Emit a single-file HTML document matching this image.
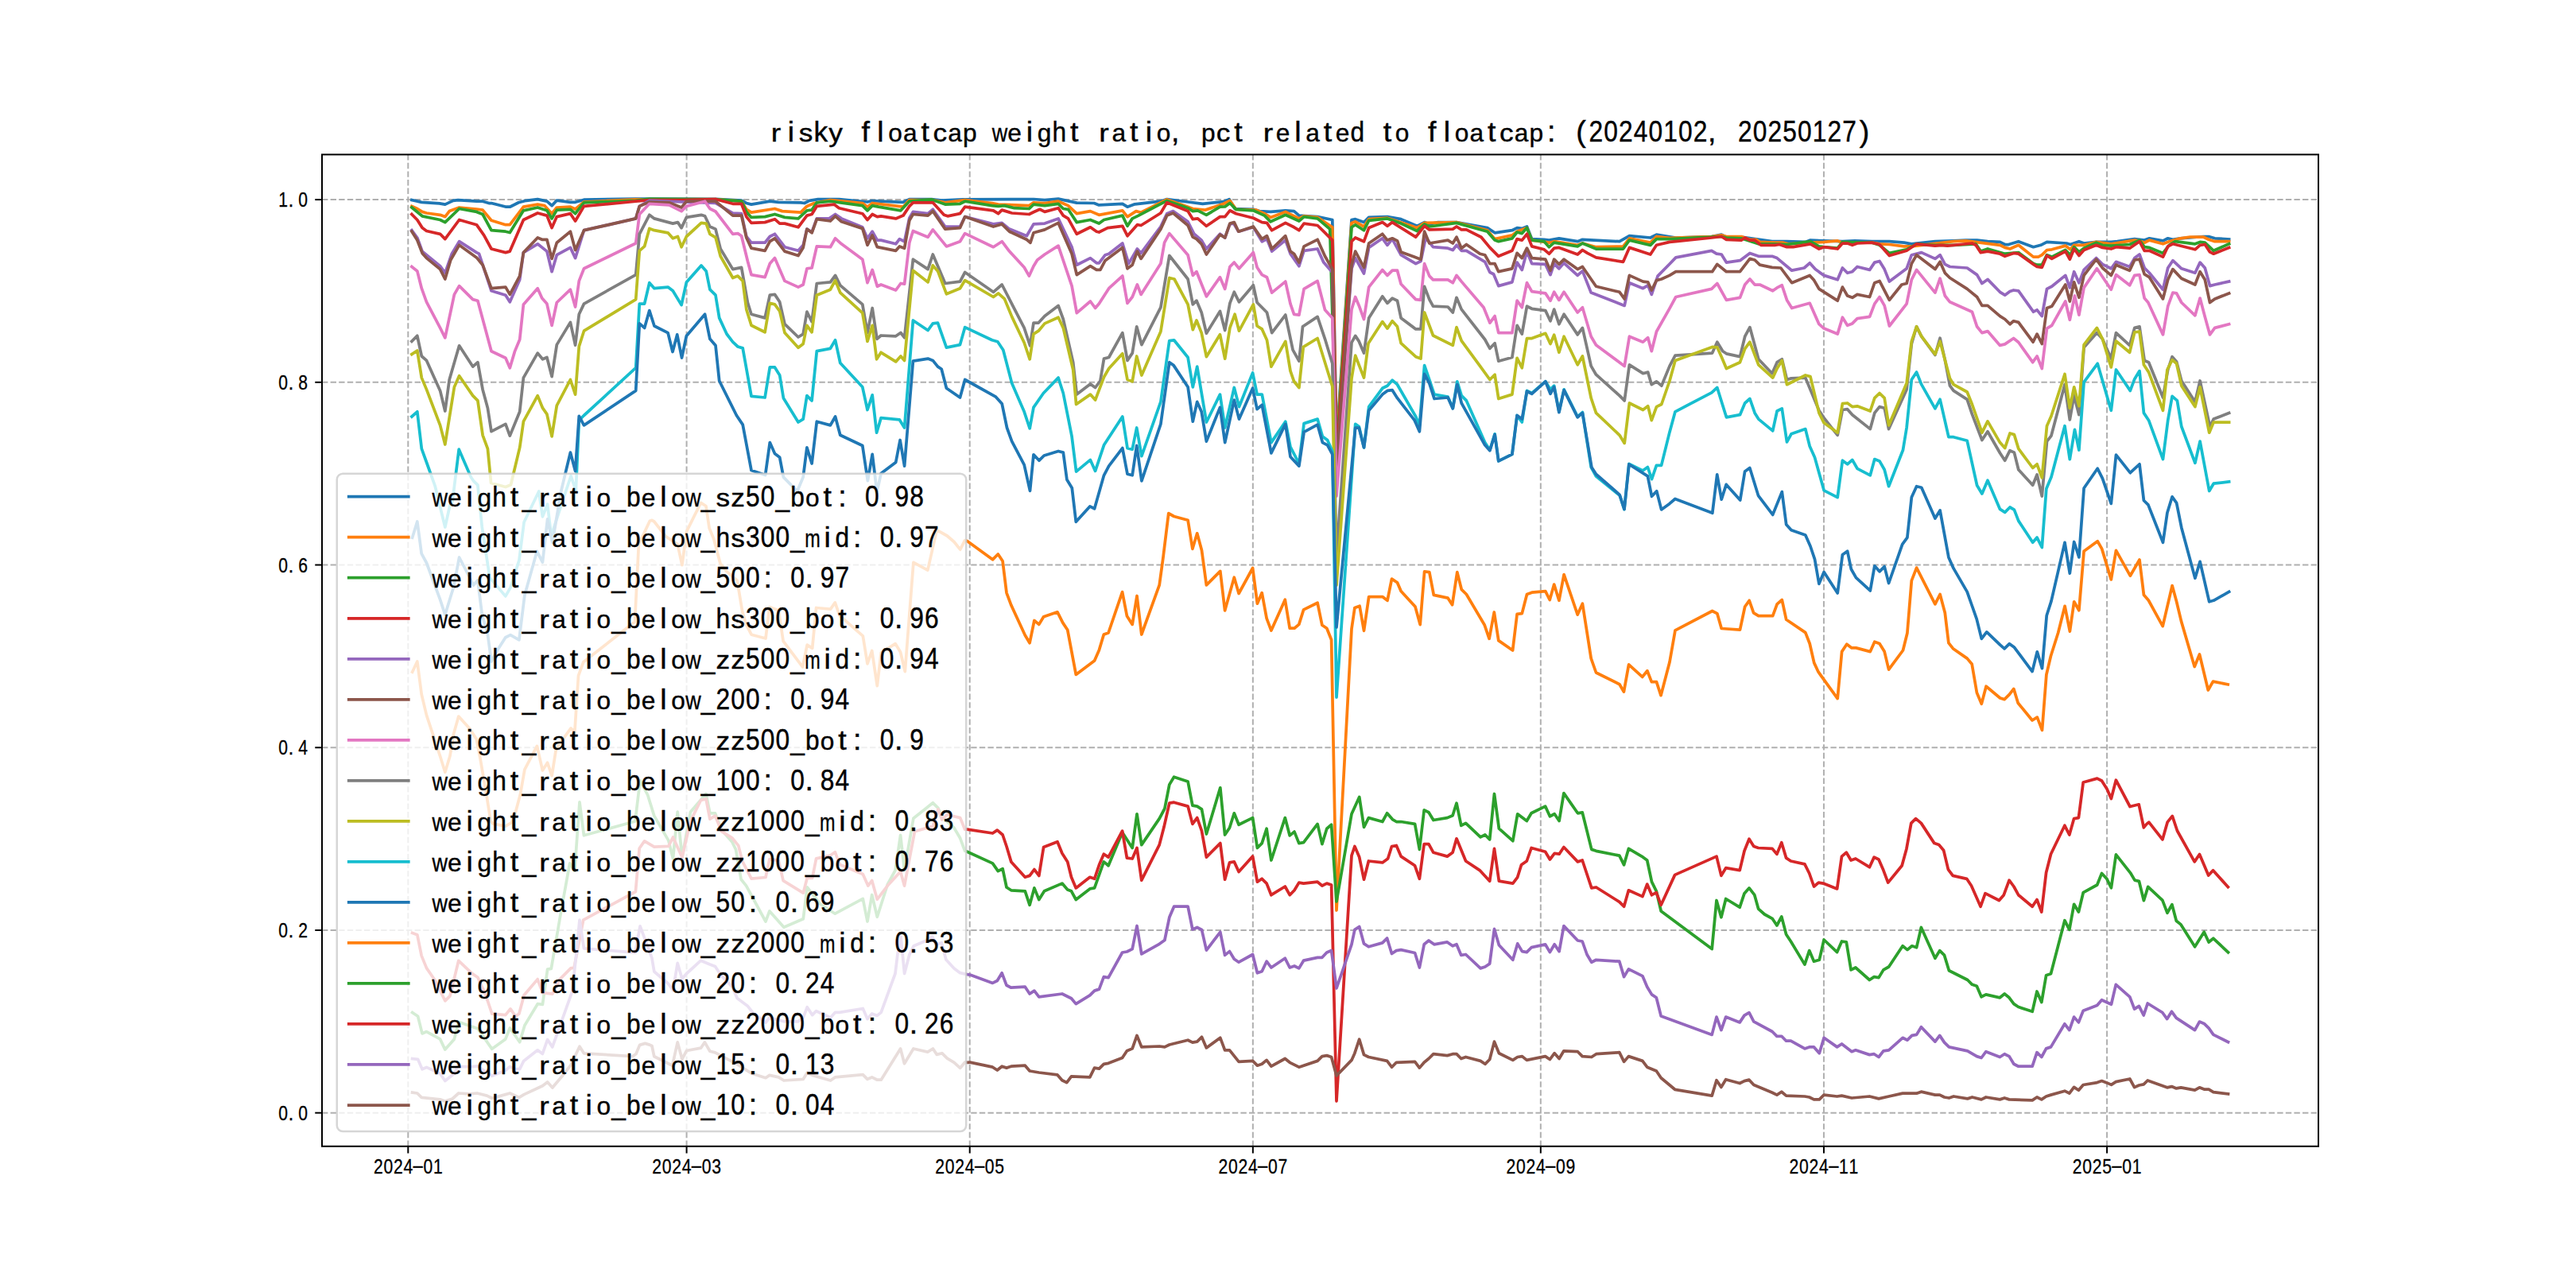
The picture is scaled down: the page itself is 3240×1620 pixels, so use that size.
<!DOCTYPE html><html><head><meta charset="utf-8"><style>html,body{margin:0;padding:0;background:#fff;overflow:hidden}svg{display:block}</style></head><body><svg width="3240" height="1620" viewBox="0 0 3240 1620" font-family="Liberation Sans, sans-serif"><defs><clipPath id="ax"><rect x="405.0" y="194.4" width="2511.0" height="1247.3999999999999"/></clipPath></defs><rect x="0" y="0" width="3240" height="1620" fill="#fff"/><g stroke="#b0b0b0" stroke-width="2" stroke-dasharray="7.4,3.2" fill="none"><line x1="513.30" y1="1441.8" x2="513.30" y2="194.4"/><line x1="863.59" y1="1441.8" x2="863.59" y2="194.4"/><line x1="1219.72" y1="1441.8" x2="1219.72" y2="194.4"/><line x1="1575.85" y1="1441.8" x2="1575.85" y2="194.4"/><line x1="1937.82" y1="1441.8" x2="1937.82" y2="194.4"/><line x1="2293.95" y1="1441.8" x2="2293.95" y2="194.4"/><line x1="2650.08" y1="1441.8" x2="2650.08" y2="194.4"/><line x1="405.0" y1="1399.70" x2="2916.0" y2="1399.70"/><line x1="405.0" y1="1169.98" x2="2916.0" y2="1169.98"/><line x1="405.0" y1="940.26" x2="2916.0" y2="940.26"/><line x1="405.0" y1="710.54" x2="2916.0" y2="710.54"/><line x1="405.0" y1="480.82" x2="2916.0" y2="480.82"/><line x1="405.0" y1="251.10" x2="2916.0" y2="251.10"/></g><g fill="none" stroke-width="3.75" stroke-linejoin="round" stroke-linecap="square" clip-path="url(#ax)"><polyline points="517.9,251.6 530.3,254.3 552.8,255.8 559.8,257.1 569.9,252.4 576.1,251.6 599.4,253.2 607.1,253.2 614.9,255.5 618.0,255.5 636.6,260.2 641.3,260.2 652.2,254.8 659.9,252.7 676.2,250.6 687.9,253.2 694.1,258.6 700.3,252.1 717.4,254.3 723.6,254.3 734.5,251.2 799.7,250.1 900.0,250.4 932.6,252.1 938.8,255.5 945.0,257.1 968.3,253.2 979.2,254.3 1007.1,254.8 1011.8,255.5 1018.0,252.4 1028.9,250.6 1055.3,250.6 1091.0,254.0 1095.7,252.7 1136.0,254.3 1143.8,250.6 1171.7,250.6 1184.2,252.1 1210.6,250.9 1300.0,250.5 1314.0,251.6 1331.1,250.1 1354.3,255.2 1376.1,255.5 1382.3,257.9 1411.8,256.3 1418.0,260.2 1427.3,256.8 1459.9,253.2 1467.7,250.6 1494.1,254.0 1512.7,256.3 1539.1,253.7 1546.1,250.6 1553.1,262.5 1576.4,263.3 1584.2,265.6 1598.1,266.4 1616.8,264.8 1627.6,265.6 1633.9,271.1 1657.1,272.6 1675.8,276.5 1681.0,555.0 1700.0,276.5 1704.7,275.7 1715.5,279.6 1721.7,273.4 1745.0,272.6 1762.1,275.7 1782.3,284.3 1791.6,279.6 1797.8,281.9 1808.7,279.6 1832.0,279.6 1870.8,286.6 1880.1,292.8 1901.9,289.7 1908.1,286.6 1914.3,287.4 1920.5,285.0 1926.7,300.6 1942.2,301.3 1948.4,302.1 1960.9,299.8 1984.2,303.7 1990.4,301.3 2037.0,303.7 2049.4,296.7 2075.8,299.0 2083.5,295.1 2100.0,297.8 2107.8,299.0 2152.8,297.5 2165.2,295.1 2171.4,298.2 2190.1,298.2 2228.9,303.7 2247.5,303.7 2270.8,304.4 2277.0,302.1 2294.1,302.9 2317.4,303.7 2332.9,302.9 2354.7,303.7 2376.4,303.7 2395.0,305.2 2404.3,306.8 2410.6,306.0 2433.9,303.7 2457.1,302.9 2472.7,302.1 2486.6,302.1 2500.0,303.7 2515.5,304.4 2521.7,307.5 2526.4,307.5 2538.8,303.7 2557.5,310.7 2566.8,308.3 2574.5,304.4 2599.4,306.0 2604.0,307.5 2614.9,303.7 2621.1,306.0 2636.6,304.4 2655.3,304.4 2663.0,303.7 2684.8,300.6 2697.2,302.1 2703.4,299.8 2720.5,302.9 2726.7,299.8 2732.9,301.3 2742.2,299.8 2771.7,297.5 2778.0,297.5 2785.7,299.8 2803.6,300.9" stroke="#1f77b4"/><polyline points="517.9,259.4 524.8,262.5 531.1,266.4 536.5,268.0 553.6,270.3 559.8,272.6 565.2,265.6 577.6,261.0 599.4,263.0 607.1,264.1 618.0,277.3 635.9,282.7 641.3,282.7 658.4,260.2 676.2,257.1 684.8,258.6 694.1,268.7 700.3,261.0 717.4,260.2 723.6,263.0 734.5,254.0 799.7,250.9 900.0,250.6 932.6,253.2 938.8,263.3 945.0,267.2 974.5,262.5 983.9,265.6 1007.1,267.2 1014.9,259.4 1024.2,255.5 1044.4,251.6 1084.8,255.5 1091.0,260.2 1097.2,255.5 1136.0,260.2 1143.8,251.6 1173.3,251.6 1188.8,254.8 1213.7,251.6 1247.8,255.5 1255.6,257.1 1294.4,258.6 1300.0,254.8 1314.0,255.5 1331.1,253.2 1343.5,258.6 1354.3,268.7 1371.4,265.6 1382.3,270.3 1411.8,264.8 1418.0,272.6 1428.9,265.6 1435.1,267.2 1467.7,250.9 1494.1,260.2 1500.3,262.5 1515.8,264.1 1539.1,256.3 1546.9,252.4 1554.7,263.3 1579.5,264.1 1590.4,268.7 1598.1,273.4 1616.8,266.4 1633.9,274.9 1640.1,271.8 1657.1,273.4 1675.8,285.8 1681.0,562.0 1700.0,280.4 1704.7,278.8 1715.5,285.0 1721.7,275.7 1745.0,274.2 1782.3,286.6 1791.6,280.4 1832.0,279.6 1870.8,289.7 1880.1,300.6 1901.9,295.9 1908.1,291.2 1920.5,286.6 1926.7,302.1 1948.4,305.2 1954.7,303.7 1984.2,308.3 1990.4,306.0 2007.5,310.7 2041.6,309.9 2049.4,299.8 2075.8,305.2 2083.5,297.5 2100.0,299.4 2152.8,297.5 2165.2,295.9 2171.4,297.5 2190.1,297.5 2200.9,301.3 2208.7,301.3 2213.4,304.4 2232.0,305.2 2242.9,305.2 2249.1,306.8 2277.0,305.2 2294.1,304.4 2311.2,302.9 2317.4,305.2 2354.7,305.2 2364.0,306.8 2376.4,307.5 2395.0,309.9 2404.3,309.9 2457.1,303.7 2472.7,302.9 2500.0,306.4 2515.5,308.3 2521.7,311.4 2528.0,313.0 2538.8,308.3 2557.5,323.1 2563.7,323.1 2568.3,320.7 2574.5,314.5 2580.7,313.8 2597.8,309.1 2604.0,313.8 2608.7,308.3 2621.1,308.3 2636.6,304.4 2655.3,306.8 2684.8,302.1 2691.0,302.9 2697.2,305.2 2703.4,302.1 2720.5,306.8 2728.3,303.7 2742.2,299.8 2754.7,298.2 2771.7,298.2 2778.0,301.3 2785.7,303.7 2803.6,303.7" stroke="#ff7f0e"/><polyline points="517.9,261.0 531.1,271.8 553.6,276.5 559.8,279.6 577.6,262.5 599.4,266.4 607.1,269.5 618.0,289.7 635.9,291.2 641.3,292.5 658.4,264.8 676.2,261.0 687.9,264.8 694.1,274.9 700.3,264.1 717.4,263.3 723.6,268.7 734.5,254.8 799.7,252.4 816.8,250.1 900.0,250.9 932.6,253.2 938.8,266.4 945.0,273.4 962.1,272.6 974.5,269.5 987.0,273.4 1004.0,274.9 1014.9,264.8 1021.1,264.1 1027.3,254.8 1044.4,253.2 1084.8,258.6 1091.0,264.8 1097.2,258.6 1105.0,260.2 1132.9,264.8 1143.8,253.2 1171.7,250.9 1188.8,257.1 1207.5,256.3 1213.7,253.2 1247.8,258.6 1255.6,259.4 1263.4,258.6 1275.8,261.7 1294.4,262.5 1300.0,257.1 1314.0,258.6 1331.1,256.3 1337.3,262.5 1343.5,263.3 1354.3,279.6 1371.4,276.5 1382.3,281.1 1388.5,276.5 1411.8,271.1 1418.0,284.3 1424.2,274.9 1432.0,271.1 1467.7,252.4 1494.1,261.7 1500.3,265.6 1506.5,264.8 1517.4,270.3 1534.5,260.2 1540.7,259.9 1546.9,255.5 1554.7,263.3 1576.4,264.8 1590.4,271.1 1598.1,278.8 1616.8,270.3 1633.9,278.0 1640.1,272.6 1657.1,274.9 1672.7,288.1 1681.0,570.0 1700.0,285.8 1704.7,282.7 1715.5,289.7 1721.7,277.3 1745.0,274.9 1762.1,281.1 1782.3,290.5 1791.6,281.9 1797.8,285.0 1832.0,280.4 1870.8,291.2 1880.1,302.1 1884.8,303.7 1901.9,299.8 1908.1,292.0 1914.3,293.6 1920.5,286.6 1926.7,302.1 1942.2,303.7 1948.4,310.7 1954.7,305.2 1984.2,309.9 1990.4,306.0 2007.5,313.0 2041.6,313.0 2049.4,302.1 2075.8,308.3 2083.5,300.6 2100.0,300.6 2152.8,298.2 2165.2,297.5 2171.4,299.0 2190.1,299.8 2211.8,306.8 2232.0,306.8 2247.5,307.5 2277.0,303.7 2287.9,309.9 2294.1,310.7 2311.2,312.2 2317.4,304.4 2354.7,305.2 2364.0,308.3 2376.4,318.4 2398.1,313.8 2410.6,306.8 2433.9,308.3 2457.1,308.3 2485.1,306.8 2491.3,316.1 2500.0,313.0 2521.7,319.2 2538.8,317.6 2557.5,331.6 2562.1,333.2 2568.3,333.2 2574.5,320.7 2580.7,323.1 2597.8,314.5 2604.0,320.7 2608.7,310.7 2614.9,316.9 2621.1,312.2 2636.6,305.2 2644.4,308.3 2655.3,309.1 2678.6,307.5 2691.0,302.1 2697.2,310.7 2703.4,311.4 2720.5,318.4 2728.3,308.3 2736.0,303.7 2760.9,306.8 2767.1,304.4 2773.3,305.2 2784.2,315.3 2803.6,306.8" stroke="#2ca02c"/><polyline points="517.9,269.5 524.8,276.5 531.1,286.6 536.5,290.5 553.6,294.3 559.8,300.6 577.6,276.5 599.4,282.7 608.7,295.9 618.0,313.0 635.9,317.6 641.3,316.1 658.4,276.5 676.2,268.0 687.9,271.1 694.1,286.6 700.3,272.6 717.4,268.7 723.6,278.0 734.5,259.4 799.7,253.2 816.8,251.6 857.1,251.6 900.0,250.5 921.7,256.3 932.6,256.3 938.8,272.6 945.0,280.4 962.1,279.6 974.5,275.7 980.7,281.1 987.0,281.1 1004.0,285.8 1014.9,271.1 1021.1,269.5 1027.3,259.4 1049.1,257.1 1055.3,261.7 1084.8,268.7 1091.0,276.5 1097.2,269.5 1103.4,272.6 1108.1,271.8 1126.7,274.9 1136.0,271.1 1143.8,259.4 1148.4,254.8 1173.3,254.8 1187.3,270.3 1191.9,271.8 1207.5,268.7 1213.7,260.2 1249.4,264.8 1255.6,268.7 1260.2,264.1 1272.7,268.0 1294.4,269.5 1300.0,266.8 1307.8,263.3 1314.0,266.4 1331.1,261.7 1337.3,271.1 1343.5,274.9 1354.3,294.3 1371.4,285.8 1379.2,291.2 1382.3,292.0 1393.2,286.6 1411.8,284.3 1418.0,296.7 1430.4,282.7 1435.1,283.5 1459.9,268.0 1467.7,254.8 1494.1,265.6 1500.3,275.7 1506.5,274.9 1517.4,284.3 1534.5,272.6 1540.7,272.6 1546.9,264.8 1554.7,268.7 1576.4,274.2 1587.3,279.6 1593.5,280.4 1599.7,289.7 1616.8,280.4 1627.6,285.8 1633.9,289.7 1640.1,281.1 1657.1,283.5 1664.9,291.2 1675.8,302.1 1681.0,578.0 1700.0,303.7 1704.7,299.0 1715.5,303.7 1721.7,286.6 1738.8,279.6 1745.0,284.3 1751.2,279.6 1780.7,298.2 1791.6,284.3 1797.8,288.9 1827.3,288.1 1832.0,285.0 1838.2,288.9 1844.4,288.9 1863.0,298.2 1873.9,311.4 1884.8,322.3 1901.9,315.3 1908.1,300.6 1914.3,302.1 1920.5,294.3 1926.7,309.9 1942.2,313.8 1948.4,319.2 1954.7,312.2 1960.9,311.4 1984.2,320.0 1990.4,314.5 1996.6,318.4 2007.5,323.9 2041.6,329.3 2049.4,311.4 2075.8,320.0 2083.5,308.3 2100.0,304.4 2107.8,303.7 2152.8,299.0 2165.2,297.5 2171.4,301.3 2190.1,302.1 2194.7,299.0 2200.9,302.1 2207.1,302.1 2214.9,308.3 2232.0,308.3 2238.2,307.5 2247.5,310.7 2255.3,310.7 2277.0,306.8 2287.9,313.0 2294.1,310.7 2311.2,313.0 2317.4,306.0 2323.6,306.0 2329.8,308.3 2336.0,306.0 2354.7,305.2 2364.0,307.5 2376.4,321.5 2398.1,315.3 2410.6,306.8 2433.9,309.1 2441.6,308.3 2449.4,309.1 2480.4,306.0 2485.1,308.3 2491.3,317.6 2500.0,316.1 2515.5,319.2 2521.7,322.3 2532.6,318.4 2538.8,319.2 2557.5,332.4 2562.1,335.5 2568.3,336.3 2574.5,321.5 2580.7,325.4 2597.8,316.1 2603.3,326.2 2608.7,313.0 2614.9,321.5 2621.1,314.5 2636.6,308.3 2644.4,311.4 2655.3,313.0 2661.5,310.7 2678.6,312.2 2691.0,303.7 2697.2,315.3 2703.4,315.3 2720.5,323.1 2726.7,309.9 2732.9,306.8 2760.9,313.8 2767.1,308.3 2773.3,307.5 2779.5,316.9 2784.2,319.2 2803.6,311.4" stroke="#d62728"/><polyline points="517.9,289.7 524.8,299.0 531.1,316.1 536.5,320.7 553.6,334.7 559.8,343.3 568.3,319.2 577.6,303.7 599.4,317.6 602.5,319.2 618.0,365.8 635.9,371.2 641.3,379.8 653.7,351.8 658.4,317.6 676.2,306.8 687.9,316.1 694.1,341.7 700.3,320.7 717.4,311.4 723.6,324.6 734.5,289.7 799.7,274.9 804.3,259.4 816.8,252.4 900.0,255.5 921.7,268.0 932.6,268.7 938.8,297.5 945.0,305.2 962.1,305.2 968.3,297.5 974.5,294.3 987.0,310.7 1004.0,315.3 1010.2,308.3 1014.9,288.1 1021.1,292.0 1027.3,274.9 1042.9,274.9 1050.6,269.5 1058.4,274.9 1084.8,285.8 1091.0,299.8 1097.2,291.2 1103.4,302.1 1108.1,302.1 1126.7,306.8 1131.4,300.6 1137.6,303.7 1143.8,274.2 1148.4,266.4 1167.1,268.7 1173.3,263.3 1188.8,285.0 1207.5,285.0 1213.7,272.6 1249.4,281.9 1260.2,280.4 1269.6,288.1 1291.3,296.7 1300.0,281.9 1314.0,281.1 1331.1,274.9 1348.1,310.7 1354.3,333.2 1371.4,324.6 1379.2,330.8 1382.3,330.8 1390.1,320.7 1394.7,319.2 1411.8,306.0 1419.6,331.6 1430.4,313.0 1435.1,318.4 1459.9,285.0 1467.7,268.7 1475.5,265.6 1494.1,278.8 1501.9,294.3 1511.2,302.1 1517.4,313.0 1534.5,294.3 1540.7,299.0 1546.9,281.9 1551.6,281.1 1557.8,291.2 1576.4,285.8 1587.3,303.7 1593.5,300.6 1599.7,316.1 1616.8,302.1 1623.0,319.2 1633.9,334.7 1640.1,315.3 1657.1,313.0 1664.9,330.1 1675.8,342.5 1681.0,594.0 1700.0,337.8 1704.7,324.6 1715.5,344.0 1721.7,311.4 1738.8,299.8 1745.0,308.3 1751.2,300.6 1762.1,320.7 1780.7,331.6 1787.0,328.5 1793.2,299.0 1802.5,310.7 1821.1,312.2 1827.3,314.5 1832.0,308.3 1838.2,315.3 1844.4,315.3 1867.7,329.3 1873.9,342.5 1878.6,344.8 1884.8,359.6 1901.9,354.9 1908.1,330.1 1914.3,339.4 1920.5,316.1 1926.7,331.6 1943.8,332.4 1950.0,345.6 1954.7,331.6 1960.9,337.8 1967.1,330.8 1984.2,346.4 1990.4,340.9 2001.2,368.1 2043.2,384.4 2049.4,355.7 2066.5,362.7 2072.7,358.8 2077.3,370.4 2085.1,347.1 2100.0,332.0 2107.8,323.9 2152.8,315.3 2159.0,319.2 2165.2,320.0 2171.4,330.1 2188.5,327.7 2200.9,318.4 2211.8,322.3 2228.9,322.3 2235.1,324.6 2253.7,340.2 2269.3,337.0 2276.2,330.8 2283.2,338.6 2294.1,346.4 2311.2,351.8 2317.4,337.0 2323.6,343.3 2329.8,341.7 2336.0,335.5 2351.6,339.4 2357.8,330.1 2364.0,328.5 2370.2,338.6 2376.4,354.1 2398.1,337.8 2404.3,320.7 2416.8,317.6 2433.9,325.4 2440.1,320.7 2446.3,332.4 2452.5,335.5 2474.2,337.0 2486.6,345.6 2492.9,356.5 2500.0,351.4 2515.5,367.3 2521.7,371.2 2528.0,366.6 2532.6,365.0 2538.8,365.8 2557.5,392.2 2562.1,389.8 2568.3,397.6 2574.5,363.4 2580.7,360.3 2597.8,346.4 2603.3,361.9 2608.7,341.7 2614.9,355.7 2621.1,339.4 2636.6,324.6 2644.4,332.4 2655.3,337.8 2661.5,329.3 2678.6,335.5 2684.8,324.6 2691.0,320.0 2697.2,337.0 2703.4,343.3 2720.5,364.2 2726.7,337.0 2732.9,327.7 2743.8,337.8 2760.9,343.3 2767.1,330.1 2773.3,337.0 2779.5,359.6 2785.7,358.0 2803.6,354.1" stroke="#9467bd"/><polyline points="517.9,291.2 524.8,302.1 531.1,318.4 536.5,324.6 553.6,338.6 559.8,351.0 566.8,327.0 577.6,308.3 599.4,323.9 607.1,333.2 618.0,362.7 635.9,361.1 641.3,370.4 653.7,347.1 658.4,317.6 676.2,299.0 681.7,301.3 687.9,301.3 694.1,325.4 700.3,305.2 717.4,291.2 723.6,314.5 734.5,289.7 799.7,274.9 804.3,259.4 816.8,254.0 841.6,254.8 857.1,261.0 863.4,253.2 900.0,253.2 921.7,271.1 932.6,271.1 938.8,299.0 945.0,312.2 962.1,315.3 968.3,303.7 974.5,299.8 987.0,316.1 1004.0,321.5 1010.2,311.4 1014.9,288.1 1021.1,292.8 1027.3,275.7 1044.4,278.0 1050.6,271.8 1058.4,278.8 1084.8,287.4 1091.0,308.3 1097.2,295.9 1103.4,310.7 1126.7,315.3 1131.4,309.9 1137.6,312.2 1143.8,277.3 1148.4,269.5 1167.1,271.1 1173.3,265.6 1188.8,288.1 1207.5,286.6 1213.7,272.6 1249.4,285.0 1260.2,281.9 1269.6,291.2 1291.3,301.3 1296.0,305.2 1300.0,292.8 1314.0,288.9 1331.1,280.4 1348.1,319.2 1354.3,345.6 1371.4,334.7 1379.2,339.4 1383.9,339.4 1390.1,327.7 1411.8,311.4 1418.0,337.8 1424.2,333.2 1430.4,316.1 1435.1,325.4 1459.9,288.1 1467.7,271.1 1475.5,268.0 1494.1,283.5 1500.3,298.2 1505.0,300.6 1511.2,306.8 1517.4,320.0 1534.5,295.1 1540.7,299.0 1546.9,281.1 1552.3,279.6 1557.8,291.2 1576.4,285.0 1587.3,300.6 1593.5,296.7 1599.7,313.0 1616.8,296.7 1623.0,316.1 1627.6,319.2 1633.9,330.1 1640.1,309.9 1657.1,301.3 1666.5,322.3 1675.8,338.6 1681.0,586.0 1700.0,333.2 1704.7,316.1 1715.5,336.3 1721.7,306.0 1738.8,294.3 1745.0,302.1 1751.2,299.8 1757.5,302.9 1762.1,316.9 1787.0,326.2 1791.6,291.2 1797.8,306.0 1821.1,302.1 1827.3,306.0 1832.0,298.2 1838.2,312.2 1844.4,307.5 1861.5,319.2 1867.7,320.7 1873.9,331.6 1880.1,331.6 1884.8,341.7 1901.9,337.8 1908.1,318.4 1914.3,324.6 1920.5,312.2 1926.7,324.6 1943.8,326.2 1950.0,340.2 1954.7,326.2 1960.9,332.4 1967.1,326.2 1984.2,338.6 1990.4,335.5 2007.5,360.3 2037.0,367.3 2043.2,375.9 2049.4,346.4 2066.5,354.1 2072.7,354.9 2077.3,365.0 2083.5,352.6 2089.8,351.0 2100.0,346.4 2107.8,341.7 2153.6,341.7 2159.8,332.4 2171.4,341.7 2188.5,341.7 2200.9,325.4 2207.1,327.0 2213.4,333.2 2228.9,336.3 2239.8,337.0 2253.7,355.7 2276.2,346.4 2281.7,352.6 2287.9,363.4 2311.2,378.2 2317.4,361.1 2323.6,372.0 2329.8,374.3 2336.0,370.4 2351.6,373.5 2357.8,355.7 2364.0,353.4 2376.4,377.4 2391.9,358.0 2398.1,356.5 2404.3,331.6 2410.6,320.7 2433.9,338.6 2440.1,329.3 2446.3,343.3 2452.5,349.5 2474.2,363.4 2486.6,373.5 2492.9,384.4 2500.0,384.4 2515.5,397.6 2521.7,401.5 2528.0,407.7 2532.6,403.8 2538.8,405.4 2557.1,430.2 2562.1,420.1 2568.3,432.5 2574.5,387.5 2580.7,385.2 2597.8,358.0 2603.3,379.0 2608.7,354.9 2614.9,374.3 2621.1,346.4 2636.6,326.2 2644.4,337.0 2655.3,346.4 2661.5,333.2 2678.6,340.2 2684.8,327.0 2691.0,326.2 2697.2,344.8 2703.4,348.7 2720.5,375.9 2726.7,351.8 2732.9,338.6 2743.8,350.2 2760.9,358.0 2767.1,341.7 2773.3,351.8 2779.5,380.5 2785.7,375.9 2803.6,368.9" stroke="#8c564b"/><polyline points="517.9,335.5 524.8,340.9 530.3,362.7 536.5,379.8 553.6,412.4 559.8,424.8 571.4,370.4 577.6,359.6 594.7,376.6 600.9,378.2 618.0,441.8 635.9,450.3 641.3,462.7 647.5,441.9 653.7,427.0 658.4,382.9 676.2,362.7 681.7,375.1 687.9,382.1 694.1,409.3 700.3,380.5 717.4,364.2 723.6,386.0 728.3,353.4 734.5,337.8 799.7,306.0 804.3,269.5 816.8,256.3 841.6,257.9 857.1,265.6 863.4,259.4 886.6,253.2 892.9,262.5 900.0,266.0 921.7,294.3 928.0,293.6 932.6,296.7 940.4,328.5 945.0,345.6 962.1,348.7 968.3,331.6 974.5,324.6 987.0,353.4 1004.0,361.1 1010.2,358.0 1014.9,337.8 1021.1,337.0 1027.3,309.9 1044.4,310.7 1050.6,299.8 1058.4,306.8 1084.8,326.2 1091.0,355.7 1097.2,339.4 1103.4,360.3 1108.1,358.0 1126.7,365.0 1132.9,356.5 1137.6,357.2 1143.8,305.2 1148.4,290.5 1167.1,298.2 1173.3,288.9 1190.4,309.9 1207.5,303.7 1213.7,293.6 1249.4,310.7 1260.2,303.7 1269.6,316.1 1288.2,336.3 1294.4,347.1 1300.0,334.7 1304.7,327.0 1314.0,320.0 1331.1,309.1 1348.1,359.6 1354.3,393.7 1371.4,379.0 1377.6,387.5 1382.3,382.1 1394.7,362.7 1411.8,347.1 1418.0,381.3 1424.2,373.5 1430.4,358.0 1435.1,370.4 1459.9,331.6 1464.6,305.2 1470.8,293.6 1494.1,320.7 1500.3,346.4 1505.0,341.7 1517.4,372.8 1534.5,348.7 1540.7,363.4 1546.9,335.5 1552.3,330.1 1558.5,337.8 1576.4,317.6 1581.1,336.3 1587.3,345.6 1593.5,348.7 1599.7,368.1 1616.8,354.1 1623.0,382.1 1627.6,395.3 1633.9,396.1 1640.1,363.4 1657.1,353.4 1666.5,389.8 1675.8,399.9 1681.0,624.0 1700.0,389.1 1704.7,373.5 1709.3,384.4 1715.5,401.5 1721.7,361.1 1738.8,339.4 1745.0,346.4 1751.2,340.2 1757.5,340.2 1762.1,357.2 1780.7,376.6 1787.0,377.4 1791.6,331.6 1797.8,347.1 1802.5,351.8 1821.1,351.8 1827.3,355.7 1832.0,346.4 1838.2,354.1 1866.1,386.7 1873.9,406.1 1880.1,397.6 1884.8,418.6 1901.9,418.6 1908.1,378.2 1914.3,386.7 1920.5,355.7 1926.7,366.6 1943.8,368.9 1950.0,378.2 1954.7,367.3 1960.9,377.4 1967.1,367.3 1984.2,393.0 1990.4,386.7 2001.2,423.2 2007.5,434.0 2043.2,460.4 2049.4,423.2 2066.5,430.2 2072.7,424.7 2077.3,441.7 2083.5,417.0 2100.0,387.9 2107.8,373.5 2152.8,363.4 2159.8,356.5 2171.4,377.4 2188.5,374.3 2194.7,358.0 2200.9,351.0 2207.1,358.0 2213.4,358.0 2229.7,365.8 2235.1,361.9 2241.3,358.8 2247.5,377.4 2253.7,387.5 2276.2,381.3 2287.9,407.7 2294.1,413.1 2311.2,420.1 2317.4,399.2 2323.6,409.3 2329.8,406.9 2336.0,400.7 2351.6,398.4 2357.8,382.1 2364.0,373.5 2370.2,384.4 2376.4,410.0 2398.1,382.1 2404.3,351.8 2410.6,339.4 2433.9,368.1 2440.1,350.2 2446.3,372.0 2452.5,379.8 2480.4,392.2 2486.6,410.8 2492.9,418.6 2500.0,416.6 2515.5,434.4 2521.7,432.9 2532.6,425.5 2538.8,430.5 2556.7,455.7 2562.1,448.0 2568.3,463.5 2574.5,413.1 2580.7,409.3 2597.8,379.0 2603.3,402.3 2609.5,372.0 2614.9,396.1 2621.1,361.9 2637.4,337.8 2655.3,364.2 2661.5,345.6 2678.6,358.8 2684.8,346.4 2691.0,345.6 2697.2,375.1 2701.9,380.5 2720.5,420.9 2726.7,385.2 2732.9,368.1 2737.6,368.9 2743.8,380.5 2760.9,396.8 2767.1,375.1 2773.3,398.4 2779.5,420.9 2785.7,412.4 2803.6,407.7" stroke="#e377c2"/><polyline points="517.9,429.3 524.8,422.3 530.3,448.0 536.5,453.4 553.6,491.4 559.8,517.0 565.2,477.5 577.6,434.8 594.7,461.1 600.9,455.7 607.1,489.9 613.4,513.2 618.0,542.7 635.9,533.4 641.3,548.1 653.7,517.8 658.4,475.1 676.2,444.1 682.5,451.8 687.9,449.5 694.1,473.6 700.3,433.6 717.4,405.4 723.6,434.1 728.3,395.3 734.5,382.1 799.7,345.6 804.3,294.3 816.8,270.3 823.0,274.9 846.3,281.1 852.5,279.6 857.1,286.6 863.4,273.4 882.0,270.3 886.6,271.8 892.9,285.0 900.0,288.1 906.2,313.0 921.7,338.6 932.6,336.3 940.4,380.5 945.0,395.3 962.1,399.9 968.3,371.2 974.5,370.4 980.7,379.8 987.0,407.7 1004.0,424.0 1010.2,420.1 1014.9,392.2 1021.1,404.6 1027.3,356.5 1044.4,354.9 1050.6,346.4 1056.8,358.8 1084.8,382.9 1091.0,418.6 1097.2,387.5 1103.0,426.3 1108.1,422.0 1126.7,422.8 1132.9,418.5 1137.6,424.7 1148.4,326.2 1167.1,338.6 1173.3,320.0 1188.8,356.5 1207.5,354.1 1213.7,342.5 1249.4,367.3 1260.2,358.0 1288.2,412.4 1295.6,434.8 1300.0,406.1 1306.2,406.1 1314.0,397.6 1331.1,384.4 1337.3,401.5 1349.7,455.7 1354.3,496.1 1371.4,482.9 1377.6,487.5 1383.9,479.0 1388.5,451.1 1394.7,449.5 1411.8,418.6 1418.0,453.4 1424.2,444.1 1429.7,410.8 1435.9,433.6 1459.9,386.7 1470.8,321.5 1494.1,351.0 1500.3,382.9 1505.0,378.2 1511.2,393.0 1517.4,419.3 1534.5,391.4 1540.7,415.5 1546.9,381.3 1552.3,367.3 1558.5,379.8 1576.4,358.8 1581.1,380.5 1593.5,393.0 1599.7,418.6 1616.8,396.1 1626.1,440.2 1633.9,454.2 1638.5,410.8 1657.1,398.4 1666.5,426.3 1675.8,457.3 1681.0,699.0 1700.0,430.9 1704.7,422.4 1709.3,429.4 1715.5,444.1 1721.7,399.9 1738.8,372.8 1745.0,381.3 1751.2,375.1 1757.5,378.2 1762.1,399.9 1780.7,413.9 1787.0,413.9 1791.6,360.3 1797.8,376.6 1802.5,385.2 1821.1,386.0 1827.3,393.0 1832.0,374.3 1838.2,389.1 1867.7,427.0 1873.9,438.3 1880.1,431.7 1884.8,454.2 1901.9,449.5 1908.1,409.3 1914.3,420.1 1920.5,385.2 1926.7,388.3 1943.8,390.6 1950.0,403.8 1954.7,389.1 1960.9,407.7 1967.1,395.3 1984.2,420.9 1990.4,412.4 2001.2,460.4 2007.5,471.2 2037.0,497.6 2043.2,503.9 2049.4,458.8 2066.5,469.7 2072.7,468.1 2077.3,483.7 2083.5,479.8 2089.8,485.2 2100.0,460.4 2107.0,447.2 2153.6,444.1 2159.8,430.2 2166.8,441.7 2171.4,444.8 2188.5,448.7 2194.7,423.2 2200.9,411.6 2211.8,451.8 2228.9,469.7 2235.1,455.7 2241.3,451.8 2247.5,477.5 2253.0,475.9 2270.8,475.1 2287.9,516.3 2294.1,525.6 2311.2,547.3 2317.4,515.5 2323.6,514.7 2329.8,521.7 2352.3,539.6 2357.8,519.4 2364.0,511.6 2370.2,513.2 2375.6,539.6 2398.1,489.9 2404.3,432.5 2410.6,410.8 2416.8,423.2 2433.9,446.5 2440.1,425.2 2446.3,452.6 2452.5,485.2 2457.1,491.4 2474.2,502.3 2480.4,520.9 2492.9,553.5 2500.0,542.7 2515.5,569.8 2521.7,579.2 2528.0,566.7 2533.4,569.1 2538.8,590.8 2556.7,610.2 2562.1,597.0 2568.3,624.1 2574.5,555.1 2580.0,548.1 2597.0,483.7 2603.3,527.9 2608.7,497.6 2614.9,521.7 2621.1,437.1 2637.4,418.6 2644.4,426.3 2655.3,451.1 2661.5,418.6 2678.6,434.4 2684.8,412.4 2691.0,410.8 2697.2,453.4 2702.6,455.7 2720.5,500.0 2726.7,465.0 2732.1,448.7 2737.6,454.9 2743.8,479.0 2760.9,505.4 2767.1,479.0 2779.5,536.5 2784.2,527.1 2803.6,519.4" stroke="#7f7f7f"/><polyline points="517.9,445.6 524.8,441.0 530.3,475.1 536.5,489.9 553.6,534.9 559.8,559.0 571.4,486.8 577.6,472.8 594.7,497.6 600.9,503.9 607.1,547.3 613.4,564.4 617.6,607.5 635.9,612.5 642.5,609.8 653.7,562.9 658.4,530.2 676.2,497.6 682.5,513.2 687.9,520.9 694.1,548.9 700.3,510.1 717.4,477.5 723.6,496.1 728.3,435.6 734.5,416.2 799.7,376.6 804.3,315.3 810.6,309.9 816.8,287.4 823.0,289.7 840.1,292.8 846.3,299.8 852.5,297.5 857.1,310.7 863.4,297.5 882.0,280.4 888.2,281.1 892.9,294.3 900.0,298.6 906.2,322.3 921.7,349.5 928.0,347.1 934.2,353.4 938.8,389.1 945.0,409.3 962.1,417.8 968.3,381.3 974.5,382.9 980.7,391.4 987.0,418.6 1004.0,437.2 1010.2,432.5 1014.9,409.3 1021.1,417.8 1027.3,371.2 1044.4,364.2 1050.6,352.6 1056.8,368.1 1084.8,393.7 1091.0,429.4 1097.2,409.3 1102.6,451.8 1108.1,443.3 1126.7,454.9 1132.9,448.0 1137.6,453.4 1148.4,340.2 1167.1,354.9 1173.3,333.9 1179.5,340.9 1190.4,369.7 1207.5,362.7 1213.7,352.6 1249.4,373.5 1255.6,368.9 1263.4,375.9 1272.7,398.4 1288.2,431.0 1295.2,451.8 1300.0,420.1 1306.2,416.2 1314.0,406.9 1331.1,399.2 1337.3,412.4 1349.7,465.0 1353.6,508.5 1371.4,496.1 1377.6,503.1 1388.5,474.3 1394.7,463.5 1411.8,444.8 1418.0,477.5 1424.2,479.8 1429.7,448.0 1435.9,472.0 1459.9,417.0 1470.8,349.5 1477.0,351.0 1494.1,382.9 1500.3,414.7 1505.0,403.0 1511.2,418.6 1517.4,448.7 1534.5,420.8 1540.7,451.1 1546.9,412.4 1553.1,395.3 1558.5,416.2 1576.4,382.9 1581.1,410.0 1587.3,413.9 1593.5,427.8 1598.9,461.1 1616.8,429.4 1623.0,466.6 1627.6,479.8 1633.9,487.5 1639.3,436.4 1657.1,425.5 1675.8,486.0 1681.0,736.0 1700.0,475.9 1704.7,447.2 1715.5,475.1 1721.0,432.1 1738.8,404.6 1745.0,413.1 1751.2,403.8 1757.5,410.8 1762.1,431.7 1780.7,448.7 1787.0,451.1 1791.6,393.0 1802.5,422.0 1827.3,434.4 1832.0,411.6 1838.2,428.6 1861.5,460.4 1873.9,477.5 1880.1,471.2 1884.8,501.5 1901.9,496.1 1908.1,450.3 1914.3,462.7 1920.5,425.5 1926.7,425.5 1943.8,419.3 1950.0,432.5 1954.7,421.2 1960.9,443.3 1967.1,423.2 1984.2,458.8 1990.4,448.0 2001.2,500.7 2007.5,519.4 2037.0,547.3 2043.2,557.4 2049.4,507.0 2066.5,515.5 2072.7,510.8 2077.3,528.7 2083.5,511.6 2089.8,508.5 2100.0,479.0 2107.0,453.4 2153.6,436.4 2159.8,436.8 2165.2,448.7 2171.4,463.5 2188.5,455.7 2194.7,438.6 2200.9,430.2 2211.8,458.8 2229.7,475.1 2235.1,463.5 2241.3,453.4 2247.5,483.7 2270.8,472.0 2277.0,473.6 2287.9,519.4 2294.1,531.8 2311.2,544.2 2317.4,507.7 2323.6,507.0 2329.8,511.6 2336.0,510.8 2352.3,517.0 2357.8,500.7 2364.0,494.5 2370.2,500.7 2375.6,534.9 2398.1,482.1 2404.3,429.3 2410.6,410.8 2416.8,423.2 2433.9,445.6 2440.1,429.3 2452.5,475.9 2457.1,483.7 2474.2,493.0 2480.4,508.5 2492.9,544.2 2500.0,529.9 2515.5,556.6 2521.7,563.6 2528.0,545.0 2533.4,546.6 2538.8,564.4 2556.7,588.5 2562.1,583.8 2568.3,600.9 2574.5,535.7 2580.0,523.3 2597.0,470.5 2603.3,513.2 2608.7,486.8 2614.9,510.8 2621.1,433.6 2637.4,412.4 2644.4,426.3 2655.3,461.9 2661.5,429.0 2678.6,443.3 2684.8,417.8 2691.0,417.0 2696.4,458.8 2702.6,468.1 2720.5,516.3 2725.9,465.0 2732.1,452.6 2737.6,457.3 2743.8,485.2 2760.9,511.6 2767.1,486.8 2778.7,544.2 2784.2,531.0 2803.6,531.0" stroke="#bcbd22"/><polyline points="517.9,524.0 524.8,517.8 530.3,564.4 536.5,581.5 547.3,611.7 559.8,663.0 566.0,635.0 569.1,630.4 577.2,565.2 592.4,600.2 595.5,604.8 600.9,610.2 606.3,663.0 616.0,726.6 635.8,749.9 642.0,739.1 652.9,704.9 659.1,656.8 677.8,618.0 682.4,649.8 688.6,634.3 693.3,673.9 718.1,598.5 724.3,617.2 728.3,528.7 734.5,522.5 799.7,462.7 804.3,382.1 810.6,382.1 816.8,355.7 823.0,362.7 840.1,361.1 846.3,365.8 857.1,383.6 863.4,354.9 882.0,333.9 888.2,340.9 892.9,364.2 900.0,371.2 904.7,399.9 914.0,420.0 921.7,430.2 928.0,436.0 934.2,437.9 945.0,498.4 962.1,500.0 968.3,461.9 974.5,461.9 980.7,472.0 985.4,500.7 1004.0,531.0 1010.2,527.1 1014.9,497.6 1021.1,503.9 1027.3,441.7 1044.4,438.3 1050.6,427.8 1056.8,456.5 1084.8,486.8 1091.0,515.5 1097.2,496.9 1102.6,544.2 1108.1,525.6 1131.4,527.9 1137.6,538.0 1148.4,403.0 1167.1,415.5 1173.3,406.9 1179.5,406.1 1190.4,437.1 1207.5,433.6 1213.7,411.6 1247.8,427.8 1254.8,429.8 1261.8,440.2 1272.7,482.1 1288.2,517.8 1295.2,538.8 1300.0,512.4 1312.4,494.5 1331.1,475.1 1337.3,494.5 1348.1,548.9 1353.6,593.1 1371.4,578.4 1377.6,592.4 1388.5,559.8 1411.8,524.0 1418.0,563.6 1424.2,565.2 1429.7,538.0 1435.9,573.7 1459.9,505.4 1470.8,428.6 1476.6,427.8 1494.1,449.5 1500.3,486.8 1505.7,461.1 1517.4,531.0 1534.5,496.1 1540.7,538.0 1552.3,487.5 1558.5,511.6 1575.6,468.9 1581.1,496.1 1587.3,496.1 1598.9,556.6 1616.8,530.2 1623.0,562.1 1633.9,583.0 1640.1,532.6 1657.1,527.1 1663.4,548.9 1669.6,553.5 1675.8,567.5 1681.0,877.0 1704.7,533.4 1709.3,536.5 1715.5,562.9 1721.7,511.6 1738.8,488.3 1745.0,485.2 1751.2,478.2 1757.5,483.7 1780.7,524.0 1785.4,534.9 1791.6,459.6 1797.8,477.5 1804.0,496.1 1821.1,499.2 1827.3,513.2 1832.8,479.8 1838.2,497.6 1844.4,503.9 1867.7,556.6 1873.9,566.0 1880.1,545.8 1884.8,579.9 1901.9,571.4 1908.1,522.5 1914.3,531.0 1920.5,491.4 1926.7,494.5 1943.8,479.8 1950.0,489.9 1954.7,485.2 1960.9,517.8 1967.1,489.9 1984.2,524.0 1990.4,518.6 2001.2,587.7 2007.5,599.1 2037.3,623.2 2042.9,640.6 2048.9,583.3 2066.1,592.0 2072.4,587.5 2077.5,602.6 2083.4,585.4 2089.6,585.4 2100.0,543.4 2107.0,517.8 2152.8,493.8 2159.8,487.5 2171.4,524.8 2188.5,521.7 2194.7,507.0 2200.9,501.5 2207.1,519.4 2211.8,527.1 2229.7,541.9 2235.1,517.0 2241.3,513.9 2247.5,555.9 2253.0,545.8 2270.8,539.6 2276.2,561.3 2282.5,575.3 2294.1,616.8 2311.2,625.6 2317.4,579.2 2323.6,583.8 2329.8,578.4 2336.0,589.3 2352.3,597.8 2357.8,577.6 2364.0,579.9 2370.2,590.8 2375.6,611.7 2393.5,566.0 2398.1,538.0 2404.3,477.5 2410.6,468.1 2416.8,483.7 2433.9,513.9 2440.1,502.3 2450.9,549.7 2457.1,549.7 2474.2,554.3 2486.6,610.5 2492.9,621.0 2500.0,604.2 2515.5,640.4 2521.7,644.3 2528.0,638.0 2533.4,641.1 2538.8,655.1 2556.7,682.3 2562.1,676.1 2568.3,688.5 2573.8,614.8 2580.0,600.1 2597.0,535.7 2603.3,577.6 2609.5,540.3 2614.9,566.0 2621.1,480.6 2638.2,457.3 2655.3,516.3 2661.5,465.0 2679.3,491.4 2684.8,476.7 2691.0,466.6 2696.4,519.4 2702.6,528.7 2720.5,577.6 2726.7,528.7 2732.1,498.4 2738.4,503.9 2743.8,536.5 2760.9,582.3 2767.1,555.1 2778.7,617.5 2784.2,608.2 2803.6,605.9" stroke="#17becf"/><polyline points="518.6,676.2 524.8,656.0 530.2,696.4 536.5,708.0 553.5,753.8 559.8,773.2 566.0,753.0 570.6,738.3 577.6,701.0 589.3,723.5 595.5,736.0 600.9,729.8 606.3,773.2 613.3,797.1 618.0,832.0 625.0,818.8 635.8,801.7 642.0,798.6 652.9,804.8 659.9,748.4 675.4,693.3 682.4,707.2 688.6,652.9 694.8,682.4 705.7,618.0 710.8,596.6 717.4,569.1 723.6,592.4 728.3,523.3 734.5,534.9 799.7,491.4 804.3,406.9 810.6,412.4 816.8,390.6 823.0,410.0 840.1,418.6 846.0,442.5 851.7,420.9 857.5,450.0 863.4,422.5 886.6,395.3 892.9,426.3 900.0,434.4 904.7,479.0 926.4,522.5 934.2,534.1 945.0,591.6 962.6,597.6 968.3,556.6 974.5,570.6 980.7,575.3 985.4,600.1 1002.7,617.9 1010.2,600.1 1014.9,562.9 1021.1,583.0 1027.3,530.2 1044.4,534.9 1050.6,524.0 1056.8,547.3 1084.8,560.5 1091.4,604.7 1097.2,571.4 1103.0,618.9 1108.1,595.5 1126.7,581.5 1132.1,553.5 1137.6,586.1 1148.4,454.2 1167.1,451.1 1173.3,453.4 1179.5,461.1 1184.2,464.3 1190.4,488.3 1207.5,500.0 1213.7,477.5 1252.5,499.2 1260.2,507.7 1266.5,538.0 1272.7,555.1 1288.2,584.6 1295.5,617.3 1300.0,571.8 1307.0,579.2 1313.2,573.0 1331.1,567.5 1337.3,569.1 1341.9,603.2 1348.3,613.8 1353.3,656.3 1370.8,636.9 1376.6,639.8 1388.5,597.8 1394.7,586.1 1411.8,563.6 1418.0,596.2 1424.2,597.8 1429.7,560.5 1435.9,604.8 1459.9,533.4 1470.8,455.7 1476.2,459.6 1494.1,486.8 1500.3,530.2 1505.7,505.4 1511.2,517.8 1517.4,555.1 1534.5,512.4 1540.7,556.6 1552.3,503.1 1558.5,527.1 1575.6,488.3 1581.1,514.7 1587.3,509.3 1598.9,569.8 1616.8,533.4 1623.0,574.5 1633.9,586.1 1640.1,543.4 1657.1,534.1 1663.4,556.6 1669.6,559.8 1675.8,571.4 1681.0,789.0 1704.7,538.0 1709.3,538.0 1715.5,562.9 1721.7,516.3 1738.8,496.1 1745.0,491.4 1751.2,490.7 1757.5,500.7 1779.2,528.7 1785.4,542.7 1791.6,470.5 1797.8,482.1 1804.0,501.5 1821.1,500.0 1827.3,513.9 1832.8,483.7 1838.2,507.0 1867.7,559.8 1873.9,566.7 1880.1,546.6 1884.8,579.9 1901.9,571.4 1908.1,522.5 1914.3,527.1 1920.5,492.2 1926.7,495.3 1943.8,479.8 1950.0,495.3 1954.7,486.8 1960.9,518.6 1967.1,490.7 1984.2,524.8 1990.4,519.4 2001.9,587.7 2007.5,596.5 2037.1,622.3 2043.0,640.5 2048.9,584.0 2072.4,598.8 2077.5,624.3 2083.7,617.7 2089.6,640.9 2100.0,633.4 2106.9,627.5 2153.8,645.3 2159.7,596.9 2165.2,628.1 2171.2,609.4 2188.7,629.1 2194.6,593.0 2200.8,588.5 2211.5,623.3 2229.7,647.4 2241.3,618.6 2246.7,659.8 2253.0,666.8 2270.8,673.0 2277.0,687.0 2282.5,703.3 2287.9,734.3 2294.1,719.6 2311.2,746.0 2317.4,697.8 2323.6,693.2 2328.3,715.7 2334.5,726.6 2352.3,742.9 2357.8,711.8 2364.0,718.8 2370.2,712.6 2375.6,733.5 2392.7,684.6 2398.9,676.1 2404.3,625.6 2410.6,611.7 2416.8,613.3 2433.9,652.0 2440.1,641.9 2450.9,700.9 2457.1,714.9 2474.2,744.4 2480.2,761.5 2486.2,778.6 2492.3,803.4 2498.8,794.9 2515.7,811.2 2521.1,815.9 2527.4,809.7 2533.6,814.3 2556.1,844.6 2562.3,819.8 2568.5,840.7 2574.2,774.3 2580.0,756.1 2597.0,682.3 2603.3,721.1 2608.7,681.5 2614.9,700.9 2621.1,614.0 2638.2,589.3 2644.4,601.7 2655.3,633.4 2661.5,572.2 2679.3,594.7 2691.0,583.8 2696.4,629.5 2701.9,634.9 2720.5,682.3 2725.9,645.0 2732.1,624.8 2737.6,632.6 2743.8,663.7 2760.9,727.3 2767.1,706.4 2778.7,756.8 2784.2,755.3 2803.6,744.4" stroke="#1f77b4"/><polyline points="518.6,845.2 524.8,832.0 530.2,873.2 536.5,899.6 553.5,950.8 559.8,971.3 566.0,950.8 570.6,922.9 576.8,901.1 590.8,916.6 599.3,929.8 604.0,953.9 612.5,1003.5 617.2,1033.0 620.3,1036.1 635.8,1039.2 643.6,1034.5 648.3,1022.1 654.5,998.8 659.9,967.9 675.4,938.4 682.4,969.0 688.6,959.3 694.1,975.6 699.5,941.5 718.1,915.9 722.8,921.3 727.5,849.9 733.7,832.8 798.5,782.0 803.4,683.9 809.8,671.1 817.3,655.2 820.0,654.4 822.8,656.0 837.5,674.8 852.2,684.6 857.9,710.7 863.6,668.3 881.5,632.4 888.0,636.5 892.1,664.2 897.8,678.0 906.0,709.0 914.1,718.8 927.2,730.2 933.7,769.3 938.6,785.7 945.1,798.2 963.0,803.0 967.9,763.6 979.3,767.7 985.1,806.3 1009.5,838.9 1015.2,811.2 1021.7,815.3 1026.6,764.5 1044.6,766.1 1050.3,757.9 1056.0,774.2 1069.0,785.7 1085.3,799.8 1091.0,834.8 1096.7,818.5 1103.3,862.6 1108.2,821.0 1126.1,809.6 1132.6,820.2 1138.3,844.6 1148.9,707.4 1166.8,717.2 1178.3,666.6 1191.3,674.0 1200.0,681.5 1207.7,691.2 1213.6,679.6 1216.5,680.6 1248.5,703.8 1255.3,697.0 1261.1,705.8 1266.0,745.6 1271.8,761.1 1289.3,799.0 1295.1,808.7 1300.9,780.5 1306.8,785.4 1312.6,775.7 1330.0,769.8 1336.8,783.4 1342.7,792.2 1353.3,848.4 1376.6,831.0 1382.5,817.4 1388.3,798.0 1394.1,796.0 1411.6,744.6 1417.4,774.7 1424.2,785.4 1430.0,749.5 1435.8,798.0 1458.2,735.9 1463.0,700.9 1469.8,645.6 1476.6,649.5 1494.1,654.3 1499.9,690.3 1505.7,670.8 1511.5,692.2 1517.4,735.9 1534.8,718.4 1540.6,767.9 1552.3,726.2 1558.1,746.5 1575.6,714.5 1581.4,759.2 1587.2,745.6 1593.1,777.6 1598.9,793.1 1616.3,754.3 1622.2,790.2 1628.0,790.2 1633.8,785.4 1639.6,766.9 1657.1,758.2 1662.9,786.3 1668.8,790.2 1674.6,804.8 1681.0,1145.0 1700.0,791.0 1703.9,764.6 1710.1,762.3 1715.5,793.3 1721.7,750.6 1738.8,750.6 1745.0,755.3 1750.5,728.1 1757.5,732.8 1762.1,743.6 1780.0,763.0 1786.2,785.6 1791.6,718.8 1797.8,719.6 1803.3,748.3 1821.1,752.2 1826.6,760.7 1832.8,719.6 1838.2,741.3 1844.4,747.5 1867.3,786.3 1873.1,803.3 1879.3,770.0 1884.8,805.6 1902.6,818.0 1908.1,772.4 1914.3,771.6 1920.5,747.5 1926.7,745.2 1943.8,743.6 1949.2,754.5 1954.7,735.1 1960.9,755.3 1967.1,722.7 1984.2,773.1 1990.4,759.2 2001.2,828.1 2007.5,846.0 2037.0,860.7 2042.4,870.1 2048.6,835.9 2065.7,851.4 2071.9,843.7 2077.3,857.6 2083.5,857.6 2089.0,874.7 2100.0,832.8 2107.0,792.9 2153.6,768.5 2159.8,771.6 2165.2,790.5 2188.5,792.1 2194.7,763.0 2200.2,755.3 2205.6,770.8 2211.8,774.7 2229.7,774.7 2235.1,759.9 2241.3,754.5 2246.7,779.3 2270.8,795.6 2276.2,809.5 2281.7,833.6 2287.1,845.2 2311.2,878.6 2316.6,819.6 2322.8,810.3 2329.0,814.9 2334.5,814.9 2352.3,819.6 2357.8,807.2 2364.0,809.5 2370.2,819.6 2375.6,842.1 2393.5,818.0 2398.9,796.3 2404.3,730.4 2410.6,714.1 2433.9,759.9 2440.1,747.5 2446.3,770.8 2450.9,808.7 2456.4,815.7 2474.2,828.1 2480.2,835.2 2486.4,871.3 2492.3,885.3 2498.1,863.2 2515.7,878.0 2521.1,879.6 2527.4,873.4 2532.8,866.4 2538.2,884.2 2556.1,906.0 2562.3,902.1 2568.5,918.4 2573.9,848.5 2579.4,825.2 2588.7,795.7 2597.1,762.3 2603.4,794.1 2608.7,756.8 2614.9,767.7 2621.1,693.2 2638.2,680.7 2643.6,690.1 2655.3,728.9 2661.5,692.4 2679.3,724.2 2691.0,704.0 2696.4,748.3 2702.3,755.0 2720.2,787.6 2732.1,736.6 2737.6,756.8 2743.5,781.4 2760.2,838.5 2766.5,823.0 2777.3,868.0 2783.5,857.1 2802.2,860.9" stroke="#ff7f0e"/><polyline points="518.6,1273.5 525.6,1278.2 531.0,1299.9 536.5,1297.6 553.5,1306.9 559.8,1320.1 571.4,1306.9 576.8,1285.2 593.9,1291.4 600.9,1293.7 606.3,1301.5 618.8,1319.3 635.8,1306.9 641.3,1293.0 648.3,1303.0 653.7,1310.8 659.9,1289.8 676.2,1262.7 682.4,1263.4 688.6,1219.2 693.3,1218.4 705.7,1146.2 716.6,1085.8 722.8,1095.1 729.0,1008.9 734.4,1050.8 798.9,1033.0 805.1,981.7 814.7,1000.0 822.8,1026.1 840.8,1057.1 846.5,1079.9 852.2,1021.2 857.9,1078.3 868.5,1021.2 888.0,998.4 892.9,1022.8 899.5,1022.8 907.6,1044.0 920.7,1058.7 925.5,1068.5 932.1,1106.0 938.6,1114.1 963.0,1159.0 967.9,1145.9 985.9,1166.3 1010.3,1155.7 1015.2,1115.8 1031.5,1137.0 1050.3,1149.2 1085.3,1130.4 1091.0,1159.0 1096.7,1125.5 1103.3,1153.3 1116.3,1112.5 1126.1,1094.6 1132.6,1050.5 1137.5,1094.6 1148.9,1029.3 1173.4,1009.8 1179.9,1016.3 1184.8,1027.7 1200.0,1041.2 1207.7,1054.3 1213.6,1070.3 1216.5,1071.3 1248.5,1085.9 1255.3,1095.6 1261.1,1092.7 1266.0,1116.0 1271.8,1119.8 1289.3,1120.8 1295.1,1138.3 1300.9,1116.9 1306.8,1131.5 1313.5,1120.8 1335.9,1111.1 1342.7,1118.9 1347.5,1120.8 1353.3,1131.5 1370.8,1117.9 1376.6,1116.9 1388.3,1083.9 1394.1,1088.8 1411.6,1047.0 1424.2,1066.5 1430.0,1023.8 1435.8,1062.6 1458.2,1029.6 1464.9,1017.0 1470.8,986.9 1476.6,977.2 1494.1,983.0 1499.9,1013.1 1505.7,1014.1 1511.5,1017.9 1517.4,1049.0 1534.8,990.8 1540.6,1050.0 1546.5,1041.2 1552.3,1022.8 1558.1,1037.3 1575.6,1028.6 1581.4,1066.5 1587.2,1060.6 1593.1,1042.2 1598.9,1082.0 1616.3,1028.6 1622.2,1050.9 1628.0,1046.1 1633.8,1060.6 1639.6,1059.7 1657.1,1036.4 1662.9,1061.6 1668.8,1042.2 1674.6,1037.3 1681.0,1134.0 1700.0,1023.8 1709.7,1002.4 1715.5,1040.3 1721.4,1028.6 1738.8,1033.5 1744.6,1022.8 1751.4,1030.6 1756.3,1033.5 1762.1,1033.5 1779.6,1036.4 1785.4,1068.4 1791.2,1018.9 1797.0,1021.8 1802.9,1031.5 1820.3,1028.6 1827.1,1025.7 1832.0,1010.2 1837.8,1038.3 1843.6,1035.4 1862.1,1052.9 1867.9,1050.0 1873.7,1055.8 1879.5,998.5 1885.4,1042.2 1902.8,1057.7 1908.7,1023.8 1920.3,1032.5 1926.1,1022.8 1943.6,1014.1 1949.4,1026.7 1955.2,1023.8 1961.1,1032.5 1966.9,997.6 1984.4,1022.8 1990.2,1021.8 2001.8,1068.4 2007.6,1070.3 2036.8,1076.2 2042.6,1087.8 2048.4,1067.4 2064.9,1077.1 2071.7,1082.0 2077.5,1109.2 2083.3,1120.8 2089.2,1146.0 2153.2,1193.6 2159.0,1132.5 2164.9,1153.8 2170.7,1130.5 2188.2,1141.2 2194.0,1123.7 2200.0,1116.9 2206.8,1125.7 2211.6,1143.1 2219.4,1150.0 2229.1,1155.3 2234.9,1164.0 2240.8,1152.9 2246.6,1175.2 2252.4,1184.0 2269.9,1213.1 2275.7,1195.6 2281.5,1209.2 2288.3,1207.3 2294.1,1182.0 2310.6,1197.6 2316.5,1184.0 2322.3,1184.9 2328.1,1219.9 2333.9,1217.0 2351.4,1232.5 2357.2,1228.6 2363.0,1229.6 2368.9,1219.9 2375.7,1216.0 2393.1,1189.8 2399.0,1194.6 2404.8,1189.8 2410.6,1191.7 2416.4,1166.5 2433.9,1205.3 2439.7,1195.6 2445.5,1201.4 2451.4,1220.8 2474.7,1232.5 2480.5,1238.3 2486.3,1240.3 2492.1,1253.8 2497.9,1250.9 2515.4,1254.8 2521.2,1250.0 2527.1,1254.8 2532.9,1262.6 2538.7,1266.5 2556.2,1272.3 2562.0,1247.0 2567.8,1260.6 2573.6,1226.7 2579.5,1224.7 2596.9,1157.7 2602.8,1169.4 2608.6,1137.3 2614.4,1147.0 2620.2,1122.7 2637.7,1113.0 2643.5,1098.5 2650.0,1105.6 2655.4,1116.7 2661.4,1074.9 2679.5,1097.8 2685.0,1107.1 2690.4,1108.3 2696.4,1132.7 2701.7,1115.4 2719.9,1132.3 2725.9,1148.2 2731.9,1137.7 2737.3,1158.2 2743.1,1162.9 2760.6,1190.8 2766.4,1181.5 2772.2,1172.2 2778.1,1185.0 2783.9,1180.3 2802.5,1197.8" stroke="#2ca02c"/><polyline points="518.6,1173.4 524.8,1175.7 530.2,1202.1 536.5,1217.6 547.3,1233.2 559.8,1258.8 566.0,1252.6 576.8,1208.3 593.9,1224.6 600.9,1229.3 611.0,1251.8 618.8,1275.1 635.8,1276.6 642.0,1268.9 648.3,1278.2 652.9,1275.1 659.1,1251.8 676.2,1231.6 682.4,1248.7 694.8,1250.2 704.2,1231.6 718.1,1217.6 722.0,1217.6 733.7,1157.2 799.4,1121.5 804.2,1067.0 810.6,1057.9 822.8,1065.2 840.8,1064.4 846.5,1053.0 857.9,1078.3 868.5,1032.6 881.5,1006.5 888.0,1004.9 892.9,1030.2 899.5,1026.1 907.6,1045.7 920.7,1053.8 928.8,1063.6 933.7,1083.2 945.1,1105.2 963.0,1103.5 967.9,1080.7 979.3,1082.3 985.1,1107.6 1010.3,1123.1 1015.2,1104.3 1021.7,1104.3 1026.6,1079.9 1044.6,1075.8 1050.3,1071.7 1056.0,1087.2 1085.3,1099.5 1091.8,1114.1 1096.7,1107.6 1103.3,1131.2 1116.3,1114.1 1132.6,1096.2 1137.5,1114.1 1150.5,1045.7 1173.4,1039.1 1179.9,1017.9 1184.8,1031.0 1191.3,1024.5 1200.0,1026.7 1207.7,1028.6 1213.6,1043.2 1216.5,1043.2 1248.5,1048.0 1254.3,1044.1 1261.1,1050.0 1266.0,1064.5 1271.8,1083.9 1289.3,1103.3 1295.1,1101.4 1300.9,1093.6 1306.8,1101.4 1312.6,1065.5 1330.0,1058.7 1335.9,1073.3 1342.7,1083.9 1347.5,1103.3 1353.3,1116.9 1370.8,1103.3 1376.6,1105.3 1382.5,1087.8 1388.3,1074.2 1394.1,1078.1 1411.6,1045.1 1417.4,1079.1 1424.2,1080.0 1430.0,1066.5 1435.8,1107.2 1458.2,1062.6 1464.0,1040.3 1470.8,1010.2 1476.6,1009.2 1494.1,1014.1 1499.9,1036.4 1505.7,1028.6 1511.5,1045.1 1517.4,1078.1 1534.8,1060.6 1540.6,1106.2 1546.5,1084.9 1552.3,1083.9 1558.1,1096.5 1575.6,1077.1 1581.4,1109.2 1587.2,1105.3 1593.1,1111.1 1598.9,1125.7 1616.3,1115.0 1622.2,1125.7 1628.0,1119.8 1633.8,1110.1 1639.6,1111.1 1657.1,1109.2 1662.9,1114.0 1668.8,1111.1 1674.6,1113.0 1681.0,1385.0 1700.0,1076.2 1703.9,1064.5 1709.7,1078.1 1715.5,1106.2 1721.4,1083.0 1738.8,1084.9 1745.6,1080.0 1750.5,1064.5 1756.3,1063.5 1762.1,1077.1 1779.6,1088.8 1785.4,1105.3 1791.2,1061.6 1797.0,1061.6 1802.9,1072.3 1820.3,1077.1 1827.1,1072.3 1832.0,1054.8 1843.6,1083.0 1861.1,1094.6 1873.7,1108.2 1879.5,1067.4 1885.4,1108.2 1902.8,1111.1 1908.7,1103.3 1913.5,1087.8 1920.3,1083.0 1926.1,1066.5 1943.6,1071.3 1949.4,1081.0 1955.2,1073.3 1961.1,1074.2 1966.9,1065.5 1984.4,1083.9 1990.2,1082.0 2001.8,1116.9 2007.6,1116.0 2036.8,1134.4 2042.6,1140.2 2048.4,1119.8 2065.9,1127.6 2071.7,1112.1 2077.5,1125.7 2083.3,1122.7 2089.2,1138.3 2106.6,1100.4 2159.0,1077.1 2164.9,1101.4 2170.7,1091.7 2188.2,1094.6 2194.0,1070.3 2200.0,1055.3 2205.8,1064.5 2211.6,1066.5 2229.1,1067.4 2234.9,1074.2 2240.8,1059.7 2246.6,1079.1 2252.4,1083.0 2269.9,1086.8 2275.7,1098.5 2281.5,1115.0 2287.3,1110.1 2293.2,1111.1 2310.6,1117.9 2316.5,1077.1 2322.3,1072.3 2328.1,1082.0 2333.9,1080.0 2351.4,1090.7 2357.2,1078.1 2363.0,1081.0 2368.9,1094.6 2374.7,1110.1 2392.2,1088.8 2398.0,1067.4 2403.8,1035.4 2409.6,1029.6 2416.4,1035.4 2432.9,1060.6 2438.7,1062.6 2444.6,1069.4 2450.4,1093.6 2456.2,1101.4 2473.7,1105.3 2479.5,1114.0 2491.1,1140.2 2497.0,1123.7 2514.4,1132.5 2520.3,1125.7 2527.1,1107.2 2532.9,1115.0 2538.7,1125.7 2556.2,1140.2 2562.0,1131.5 2567.8,1147.0 2573.6,1097.5 2579.5,1074.2 2596.9,1038.3 2602.8,1050.0 2608.6,1029.6 2614.4,1028.6 2620.2,984.0 2637.7,979.1 2643.5,982.0 2650.0,992.2 2655.4,1004.5 2661.4,981.2 2679.0,1014.5 2690.2,1011.8 2696.3,1040.8 2700.0,1036.4 2702.8,1034.2 2719.9,1055.9 2726.1,1034.2 2732.3,1026.4 2738.5,1045.0 2760.2,1083.9 2766.5,1074.5 2777.7,1101.0 2783.5,1094.7 2802.3,1115.6" stroke="#d62728"/><polyline points="518.6,1331.5 525.6,1332.3 531.0,1344.7 536.5,1342.4 553.5,1350.2 559.8,1359.5 571.4,1350.2 575.3,1341.6 593.9,1341.6 600.9,1340.8 606.3,1344.7 618.8,1353.3 635.8,1346.3 641.3,1341.6 648.3,1344.7 653.7,1344.7 658.7,1334.4 676.2,1320.8 682.4,1325.4 688.6,1307.6 694.8,1316.9 719.7,1247.1 724.3,1205.2 729.0,1157.1 734.4,1192.8 798.9,1198.2 805.1,1164.8 820.0,1205.2 822.8,1222.0 840.8,1237.5 846.5,1245.7 852.2,1211.4 857.9,1231.0 863.6,1224.5 881.5,1208.2 892.9,1213.0 899.5,1215.5 907.6,1227.7 920.7,1240.8 927.2,1255.4 940.2,1265.2 946.7,1273.4 963.0,1286.4 967.9,1279.9 985.9,1284.8 1003.8,1284.8 1010.3,1279.9 1015.2,1266.8 1021.7,1276.6 1026.6,1271.7 1044.6,1279.9 1050.3,1273.4 1056.0,1273.4 1085.3,1268.5 1091.0,1281.5 1096.7,1275.0 1103.3,1277.4 1108.2,1273.4 1126.0,1224.5 1129.1,1199.0 1133.0,1178.0 1137.6,1224.5 1143.9,1200.6 1149.3,1189.7 1164.0,1183.5 1172.6,1178.0 1177.2,1188.1 1184.2,1185.8 1189.9,1207.0 1200.0,1217.9 1207.6,1223.7 1216.5,1225.7 1220.0,1226.1 1248.5,1236.4 1254.3,1233.5 1260.2,1223.8 1266.0,1239.3 1271.8,1242.2 1289.3,1241.2 1295.1,1250.0 1300.9,1246.1 1306.8,1253.8 1335.9,1250.0 1347.5,1255.8 1353.3,1262.6 1370.8,1251.9 1376.6,1246.1 1382.5,1244.1 1388.3,1228.6 1394.1,1229.6 1411.6,1198.0 1417.4,1197.0 1424.2,1193.6 1430.0,1164.5 1435.8,1199.9 1458.2,1187.3 1464.9,1182.5 1470.8,1153.8 1476.6,1140.2 1494.1,1140.2 1499.9,1168.9 1505.7,1166.5 1511.5,1169.4 1517.4,1195.1 1534.8,1172.3 1540.6,1201.4 1546.5,1196.6 1552.3,1206.3 1558.1,1210.2 1575.6,1200.5 1581.4,1223.8 1587.2,1221.8 1593.1,1209.2 1598.9,1217.0 1616.3,1205.3 1622.2,1217.0 1628.0,1215.0 1633.8,1217.9 1639.6,1208.2 1657.1,1204.3 1662.9,1204.3 1668.8,1198.0 1674.6,1195.6 1681.0,1243.0 1700.0,1187.8 1703.9,1169.4 1709.7,1165.5 1715.5,1186.9 1721.4,1190.8 1738.8,1185.9 1744.6,1180.1 1750.5,1199.5 1756.3,1195.6 1762.1,1194.6 1779.6,1198.5 1785.4,1217.0 1791.2,1187.8 1797.0,1183.0 1803.8,1187.8 1820.3,1184.9 1827.1,1189.8 1832.0,1187.8 1837.8,1201.4 1843.6,1200.5 1862.1,1217.9 1867.9,1216.0 1873.7,1212.1 1879.5,1168.4 1885.4,1188.8 1902.8,1207.3 1908.7,1186.9 1914.5,1196.6 1920.3,1197.6 1926.1,1191.7 1943.6,1187.8 1949.4,1197.6 1955.2,1187.8 1961.1,1196.6 1966.9,1164.6 1984.4,1183.0 1990.2,1184.0 1996.0,1200.5 2001.8,1210.2 2007.6,1207.3 2036.8,1209.2 2042.6,1228.6 2048.4,1218.9 2065.9,1227.6 2071.7,1241.2 2077.5,1250.9 2083.3,1254.8 2089.2,1278.1 2153.2,1301.4 2159.0,1279.1 2164.9,1295.6 2170.7,1279.1 2188.2,1285.9 2194.0,1277.1 2200.0,1273.7 2205.8,1284.9 2229.1,1297.5 2234.9,1303.3 2240.8,1303.3 2246.6,1309.2 2252.4,1309.2 2269.9,1318.9 2275.7,1316.9 2281.5,1316.9 2288.3,1324.7 2294.1,1305.3 2310.6,1316.9 2316.5,1313.0 2329.1,1322.7 2333.9,1320.8 2351.4,1326.6 2357.2,1325.7 2363.0,1329.5 2368.9,1321.8 2375.7,1320.8 2393.1,1305.3 2399.0,1308.2 2404.8,1302.4 2410.6,1301.4 2416.4,1291.7 2433.9,1310.1 2439.7,1302.4 2445.5,1311.1 2451.4,1316.9 2474.7,1321.8 2486.3,1328.6 2492.1,1330.5 2497.9,1322.7 2515.4,1329.5 2521.2,1325.7 2527.1,1328.6 2532.9,1338.3 2538.7,1341.2 2556.2,1341.2 2562.0,1323.7 2567.8,1329.5 2573.6,1318.9 2579.5,1316.9 2596.9,1287.8 2602.8,1295.6 2608.6,1279.1 2614.4,1285.9 2620.2,1271.3 2637.7,1264.5 2643.5,1257.7 2650.0,1260.7 2655.5,1263.3 2661.3,1238.4 2678.8,1253.8 2684.6,1269.1 2690.4,1265.4 2696.2,1277.0 2701.2,1262.0 2719.8,1273.5 2725.7,1281.6 2731.5,1272.3 2737.3,1280.4 2760.6,1295.6 2766.4,1285.1 2772.2,1287.4 2778.1,1293.2 2783.9,1301.4 2802.5,1310.7" stroke="#9467bd"/><polyline points="518.6,1374.2 524.8,1375.0 530.2,1380.4 553.5,1382.8 559.8,1385.1 569.1,1382.0 576.8,1375.0 590.8,1375.8 600.1,1375.0 612.5,1378.1 618.8,1381.2 635.8,1376.6 641.3,1375.0 652.9,1380.4 659.1,1376.6 682.4,1365.7 688.6,1361.0 694.8,1368.0 707.3,1353.3 718.1,1339.3 729.0,1316.2 734.4,1324.8 795.8,1328.7 800.0,1325.5 804.6,1314.4 811.4,1312.4 817.1,1314.1 820.0,1315.5 822.8,1328.8 845.7,1340.2 852.2,1310.9 857.9,1332.1 863.6,1321.5 881.5,1318.2 886.4,1310.9 892.9,1322.3 899.5,1323.9 927.2,1338.6 945.1,1350.0 963.0,1355.7 967.9,1352.4 979.3,1354.9 985.9,1359.0 1010.3,1357.3 1015.2,1349.2 1021.7,1352.4 1044.6,1359.0 1050.3,1354.9 1085.3,1351.6 1091.0,1357.3 1096.7,1354.9 1103.3,1358.2 1108.2,1358.2 1132.6,1319.0 1137.5,1337.8 1148.9,1319.0 1166.8,1323.1 1173.4,1319.0 1178.3,1326.4 1184.8,1324.7 1191.3,1331.2 1200.0,1336.3 1207.7,1343.3 1213.9,1335.8 1216.5,1336.3 1220.0,1336.1 1248.5,1342.2 1254.3,1346.0 1260.2,1341.2 1266.0,1343.1 1271.8,1341.2 1289.3,1340.2 1295.1,1347.0 1306.8,1349.0 1330.0,1351.9 1335.9,1358.7 1341.7,1361.6 1347.5,1353.8 1370.8,1354.8 1376.6,1343.1 1382.5,1344.1 1388.3,1338.3 1394.1,1337.3 1411.6,1330.5 1417.4,1321.8 1424.2,1318.9 1430.0,1302.4 1435.8,1316.9 1458.2,1316.0 1464.9,1316.9 1470.8,1314.0 1494.1,1308.2 1499.9,1311.1 1505.7,1310.1 1511.5,1304.3 1517.4,1317.9 1534.8,1305.3 1540.6,1320.8 1546.5,1320.8 1558.1,1335.4 1575.6,1334.4 1581.4,1340.2 1587.2,1338.3 1593.1,1333.4 1598.9,1341.2 1616.3,1331.5 1622.2,1336.3 1633.8,1342.2 1657.1,1334.4 1662.9,1328.6 1668.8,1327.6 1674.6,1329.5 1681.0,1353.0 1700.0,1333.4 1703.9,1324.7 1709.7,1307.2 1715.5,1326.6 1721.4,1329.5 1744.6,1334.4 1750.5,1342.2 1756.3,1336.3 1779.6,1335.4 1785.4,1343.1 1791.2,1336.3 1797.0,1331.5 1802.9,1325.7 1820.3,1327.6 1827.1,1325.7 1832.0,1325.7 1837.8,1331.5 1843.6,1329.5 1862.1,1334.4 1867.9,1338.3 1873.7,1332.5 1879.5,1310.1 1885.4,1324.7 1902.8,1333.4 1908.7,1329.5 1914.5,1328.6 1920.3,1333.4 1943.6,1328.6 1949.4,1332.5 1955.2,1324.7 1961.1,1331.5 1966.9,1321.8 1984.4,1322.7 1990.2,1328.6 2001.8,1329.5 2007.6,1325.7 2036.8,1323.7 2042.6,1335.4 2048.4,1328.6 2065.9,1334.4 2071.7,1342.2 2083.3,1347.0 2089.2,1355.7 2106.6,1370.3 2153.2,1378.1 2159.0,1358.7 2164.9,1367.4 2170.7,1357.7 2188.2,1362.5 2194.0,1359.6 2200.0,1358.2 2205.8,1364.5 2229.1,1374.2 2234.9,1377.1 2240.8,1373.2 2246.6,1378.1 2269.9,1379.0 2275.7,1380.0 2281.5,1382.9 2288.3,1382.9 2294.1,1377.1 2310.6,1379.0 2316.5,1378.1 2329.1,1381.0 2351.4,1379.0 2363.0,1381.9 2375.7,1379.0 2393.1,1375.2 2410.6,1375.2 2416.4,1373.2 2433.9,1377.1 2439.7,1377.1 2445.5,1380.0 2451.4,1381.0 2457.2,1379.0 2474.7,1381.9 2480.5,1380.0 2492.1,1382.9 2497.9,1380.0 2515.4,1382.9 2521.2,1381.0 2527.1,1382.9 2556.2,1383.9 2562.0,1380.0 2567.8,1382.9 2573.6,1379.0 2579.5,1377.1 2596.9,1372.2 2602.8,1375.2 2608.6,1367.4 2614.4,1371.3 2620.2,1364.5 2637.7,1361.6 2643.5,1359.6 2650.0,1361.9 2655.5,1364.4 2661.3,1360.7 2678.8,1357.0 2684.6,1367.6 2690.4,1365.0 2696.2,1363.9 2701.2,1359.0 2725.7,1367.8 2731.5,1366.6 2737.3,1368.9 2743.1,1367.8 2760.6,1371.2 2766.4,1367.8 2772.2,1370.1 2778.1,1370.1 2783.9,1373.6 2802.5,1375.9" stroke="#8c564b"/></g><rect x="405.0" y="194.4" width="2511.0" height="1247.3999999999999" fill="none" stroke="#000" stroke-width="2"/><g stroke="#000" stroke-width="2"><line x1="513.30" y1="1441.8" x2="513.30" y2="1450.55"/><line x1="863.59" y1="1441.8" x2="863.59" y2="1450.55"/><line x1="1219.72" y1="1441.8" x2="1219.72" y2="1450.55"/><line x1="1575.85" y1="1441.8" x2="1575.85" y2="1450.55"/><line x1="1937.82" y1="1441.8" x2="1937.82" y2="1450.55"/><line x1="2293.95" y1="1441.8" x2="2293.95" y2="1450.55"/><line x1="2650.08" y1="1441.8" x2="2650.08" y2="1450.55"/><line x1="396.25" y1="1399.70" x2="405.0" y2="1399.70"/><line x1="396.25" y1="1169.98" x2="405.0" y2="1169.98"/><line x1="396.25" y1="940.26" x2="405.0" y2="940.26"/><line x1="396.25" y1="710.54" x2="405.0" y2="710.54"/><line x1="396.25" y1="480.82" x2="405.0" y2="480.82"/><line x1="396.25" y1="251.10" x2="405.0" y2="251.10"/></g><g font-size="25" fill="#000" stroke="#000" stroke-width="0.30"><text transform="translate(475.80,1476.20) scale(0.845,1.000)" text-anchor="middle">2</text><text transform="translate(488.30,1476.20) scale(0.845,1.000)" text-anchor="middle">0</text><text transform="translate(500.80,1476.20) scale(0.845,1.000)" text-anchor="middle">2</text><text transform="translate(513.30,1476.20) scale(0.845,1.000)" text-anchor="middle">4</text><text x="525.80" y="1476.20" text-anchor="middle">−</text><text transform="translate(538.30,1476.20) scale(0.845,1.000)" text-anchor="middle">0</text><text transform="translate(550.80,1476.20) scale(0.845,1.000)" text-anchor="middle">1</text></g><g font-size="25" fill="#000" stroke="#000" stroke-width="0.30"><text transform="translate(826.09,1476.20) scale(0.845,1.000)" text-anchor="middle">2</text><text transform="translate(838.59,1476.20) scale(0.845,1.000)" text-anchor="middle">0</text><text transform="translate(851.09,1476.20) scale(0.845,1.000)" text-anchor="middle">2</text><text transform="translate(863.59,1476.20) scale(0.845,1.000)" text-anchor="middle">4</text><text x="876.09" y="1476.20" text-anchor="middle">−</text><text transform="translate(888.59,1476.20) scale(0.845,1.000)" text-anchor="middle">0</text><text transform="translate(901.09,1476.20) scale(0.845,1.000)" text-anchor="middle">3</text></g><g font-size="25" fill="#000" stroke="#000" stroke-width="0.30"><text transform="translate(1182.22,1476.20) scale(0.845,1.000)" text-anchor="middle">2</text><text transform="translate(1194.72,1476.20) scale(0.845,1.000)" text-anchor="middle">0</text><text transform="translate(1207.22,1476.20) scale(0.845,1.000)" text-anchor="middle">2</text><text transform="translate(1219.72,1476.20) scale(0.845,1.000)" text-anchor="middle">4</text><text x="1232.22" y="1476.20" text-anchor="middle">−</text><text transform="translate(1244.72,1476.20) scale(0.845,1.000)" text-anchor="middle">0</text><text transform="translate(1257.22,1476.20) scale(0.845,1.000)" text-anchor="middle">5</text></g><g font-size="25" fill="#000" stroke="#000" stroke-width="0.30"><text transform="translate(1538.35,1476.20) scale(0.845,1.000)" text-anchor="middle">2</text><text transform="translate(1550.85,1476.20) scale(0.845,1.000)" text-anchor="middle">0</text><text transform="translate(1563.35,1476.20) scale(0.845,1.000)" text-anchor="middle">2</text><text transform="translate(1575.85,1476.20) scale(0.845,1.000)" text-anchor="middle">4</text><text x="1588.35" y="1476.20" text-anchor="middle">−</text><text transform="translate(1600.85,1476.20) scale(0.845,1.000)" text-anchor="middle">0</text><text transform="translate(1613.35,1476.20) scale(0.845,1.000)" text-anchor="middle">7</text></g><g font-size="25" fill="#000" stroke="#000" stroke-width="0.30"><text transform="translate(1900.32,1476.20) scale(0.845,1.000)" text-anchor="middle">2</text><text transform="translate(1912.82,1476.20) scale(0.845,1.000)" text-anchor="middle">0</text><text transform="translate(1925.32,1476.20) scale(0.845,1.000)" text-anchor="middle">2</text><text transform="translate(1937.82,1476.20) scale(0.845,1.000)" text-anchor="middle">4</text><text x="1950.32" y="1476.20" text-anchor="middle">−</text><text transform="translate(1962.82,1476.20) scale(0.845,1.000)" text-anchor="middle">0</text><text transform="translate(1975.32,1476.20) scale(0.845,1.000)" text-anchor="middle">9</text></g><g font-size="25" fill="#000" stroke="#000" stroke-width="0.30"><text transform="translate(2256.45,1476.20) scale(0.845,1.000)" text-anchor="middle">2</text><text transform="translate(2268.95,1476.20) scale(0.845,1.000)" text-anchor="middle">0</text><text transform="translate(2281.45,1476.20) scale(0.845,1.000)" text-anchor="middle">2</text><text transform="translate(2293.95,1476.20) scale(0.845,1.000)" text-anchor="middle">4</text><text x="2306.45" y="1476.20" text-anchor="middle">−</text><text transform="translate(2318.95,1476.20) scale(0.845,1.000)" text-anchor="middle">1</text><text transform="translate(2331.45,1476.20) scale(0.845,1.000)" text-anchor="middle">1</text></g><g font-size="25" fill="#000" stroke="#000" stroke-width="0.30"><text transform="translate(2612.58,1476.20) scale(0.845,1.000)" text-anchor="middle">2</text><text transform="translate(2625.08,1476.20) scale(0.845,1.000)" text-anchor="middle">0</text><text transform="translate(2637.58,1476.20) scale(0.845,1.000)" text-anchor="middle">2</text><text transform="translate(2650.08,1476.20) scale(0.845,1.000)" text-anchor="middle">5</text><text x="2662.58" y="1476.20" text-anchor="middle">−</text><text transform="translate(2675.08,1476.20) scale(0.845,1.000)" text-anchor="middle">0</text><text transform="translate(2687.58,1476.20) scale(0.845,1.000)" text-anchor="middle">1</text></g><g font-size="25" fill="#000" stroke="#000" stroke-width="0.30"><text transform="translate(356.25,1408.70) scale(0.845,1.000)" text-anchor="middle">0</text><text x="366.00" y="1408.70" text-anchor="middle">.</text><text transform="translate(381.25,1408.70) scale(0.845,1.000)" text-anchor="middle">0</text></g><g font-size="25" fill="#000" stroke="#000" stroke-width="0.30"><text transform="translate(356.25,1178.98) scale(0.845,1.000)" text-anchor="middle">0</text><text x="366.00" y="1178.98" text-anchor="middle">.</text><text transform="translate(381.25,1178.98) scale(0.845,1.000)" text-anchor="middle">2</text></g><g font-size="25" fill="#000" stroke="#000" stroke-width="0.30"><text transform="translate(356.25,949.26) scale(0.845,1.000)" text-anchor="middle">0</text><text x="366.00" y="949.26" text-anchor="middle">.</text><text transform="translate(381.25,949.26) scale(0.845,1.000)" text-anchor="middle">4</text></g><g font-size="25" fill="#000" stroke="#000" stroke-width="0.30"><text transform="translate(356.25,719.54) scale(0.845,1.000)" text-anchor="middle">0</text><text x="366.00" y="719.54" text-anchor="middle">.</text><text transform="translate(381.25,719.54) scale(0.845,1.000)" text-anchor="middle">6</text></g><g font-size="25" fill="#000" stroke="#000" stroke-width="0.30"><text transform="translate(356.25,489.82) scale(0.845,1.000)" text-anchor="middle">0</text><text x="366.00" y="489.82" text-anchor="middle">.</text><text transform="translate(381.25,489.82) scale(0.845,1.000)" text-anchor="middle">8</text></g><g font-size="25" fill="#000" stroke="#000" stroke-width="0.30"><text transform="translate(356.25,260.10) scale(0.845,1.000)" text-anchor="middle">1</text><text x="366.00" y="260.10" text-anchor="middle">.</text><text transform="translate(381.25,260.10) scale(0.845,1.000)" text-anchor="middle">0</text></g><g font-size="37.5" fill="#000" stroke="#000" stroke-width="0.45"><text transform="translate(976.12,177.80) scale(1.000,0.850)" text-anchor="middle">r</text><text transform="translate(994.88,177.80) scale(1.000,0.930)" text-anchor="middle">i</text><text transform="translate(1013.62,177.80) scale(0.940,0.850)" text-anchor="middle">s</text><text transform="translate(1032.38,177.80) scale(0.940,0.930)" text-anchor="middle">k</text><text transform="translate(1051.12,177.80) scale(0.940,0.830)" text-anchor="middle">y</text><text transform="translate(1088.62,177.80) scale(1.000,0.930)" text-anchor="middle">f</text><text transform="translate(1107.38,177.80) scale(1.000,0.930)" text-anchor="middle">l</text><text transform="translate(1126.12,177.80) scale(0.845,0.850)" text-anchor="middle">o</text><text transform="translate(1144.88,177.80) scale(0.845,0.850)" text-anchor="middle">a</text><text transform="translate(1163.62,177.80) scale(1.000,0.930)" text-anchor="middle">t</text><text transform="translate(1182.38,177.80) scale(0.940,0.850)" text-anchor="middle">c</text><text transform="translate(1201.12,177.80) scale(0.845,0.850)" text-anchor="middle">a</text><text transform="translate(1219.88,177.80) scale(0.845,0.830)" text-anchor="middle">p</text><text transform="translate(1257.38,177.80) scale(0.720,0.850)" text-anchor="middle">w</text><text transform="translate(1276.12,177.80) scale(0.845,0.850)" text-anchor="middle">e</text><text transform="translate(1294.88,177.80) scale(1.000,0.930)" text-anchor="middle">i</text><text transform="translate(1313.62,177.80) scale(0.845,0.830)" text-anchor="middle">g</text><text transform="translate(1332.38,177.80) scale(0.845,0.930)" text-anchor="middle">h</text><text transform="translate(1351.12,177.80) scale(1.000,0.930)" text-anchor="middle">t</text><text transform="translate(1388.62,177.80) scale(1.000,0.850)" text-anchor="middle">r</text><text transform="translate(1407.38,177.80) scale(0.845,0.850)" text-anchor="middle">a</text><text transform="translate(1426.12,177.80) scale(1.000,0.930)" text-anchor="middle">t</text><text transform="translate(1444.88,177.80) scale(1.000,0.930)" text-anchor="middle">i</text><text transform="translate(1463.62,177.80) scale(0.845,0.850)" text-anchor="middle">o</text><text x="1478.25" y="177.80" text-anchor="middle">,</text><text transform="translate(1519.88,177.80) scale(0.845,0.830)" text-anchor="middle">p</text><text transform="translate(1538.62,177.80) scale(0.940,0.850)" text-anchor="middle">c</text><text transform="translate(1557.38,177.80) scale(1.000,0.930)" text-anchor="middle">t</text><text transform="translate(1594.88,177.80) scale(1.000,0.850)" text-anchor="middle">r</text><text transform="translate(1613.62,177.80) scale(0.845,0.850)" text-anchor="middle">e</text><text transform="translate(1632.38,177.80) scale(1.000,0.930)" text-anchor="middle">l</text><text transform="translate(1651.12,177.80) scale(0.845,0.850)" text-anchor="middle">a</text><text transform="translate(1669.88,177.80) scale(1.000,0.930)" text-anchor="middle">t</text><text transform="translate(1688.62,177.80) scale(0.845,0.850)" text-anchor="middle">e</text><text transform="translate(1707.38,177.80) scale(0.845,0.930)" text-anchor="middle">d</text><text transform="translate(1744.88,177.80) scale(1.000,0.930)" text-anchor="middle">t</text><text transform="translate(1763.62,177.80) scale(0.845,0.850)" text-anchor="middle">o</text><text transform="translate(1801.12,177.80) scale(1.000,0.930)" text-anchor="middle">f</text><text transform="translate(1819.88,177.80) scale(1.000,0.930)" text-anchor="middle">l</text><text transform="translate(1838.62,177.80) scale(0.845,0.850)" text-anchor="middle">o</text><text transform="translate(1857.38,177.80) scale(0.845,0.850)" text-anchor="middle">a</text><text transform="translate(1876.12,177.80) scale(1.000,0.930)" text-anchor="middle">t</text><text transform="translate(1894.88,177.80) scale(0.940,0.850)" text-anchor="middle">c</text><text transform="translate(1913.62,177.80) scale(0.845,0.850)" text-anchor="middle">a</text><text transform="translate(1932.38,177.80) scale(0.845,0.830)" text-anchor="middle">p</text><text x="1951.12" y="177.80" text-anchor="middle">:</text><text x="1988.62" y="177.80" text-anchor="middle">(</text><text transform="translate(2007.38,177.80) scale(0.845,1.000)" text-anchor="middle">2</text><text transform="translate(2026.12,177.80) scale(0.845,1.000)" text-anchor="middle">0</text><text transform="translate(2044.88,177.80) scale(0.845,1.000)" text-anchor="middle">2</text><text transform="translate(2063.62,177.80) scale(0.845,1.000)" text-anchor="middle">4</text><text transform="translate(2082.38,177.80) scale(0.845,1.000)" text-anchor="middle">0</text><text transform="translate(2101.12,177.80) scale(0.845,1.000)" text-anchor="middle">1</text><text transform="translate(2119.88,177.80) scale(0.845,1.000)" text-anchor="middle">0</text><text transform="translate(2138.62,177.80) scale(0.845,1.000)" text-anchor="middle">2</text><text x="2153.25" y="177.80" text-anchor="middle">,</text><text transform="translate(2194.88,177.80) scale(0.845,1.000)" text-anchor="middle">2</text><text transform="translate(2213.62,177.80) scale(0.845,1.000)" text-anchor="middle">0</text><text transform="translate(2232.38,177.80) scale(0.845,1.000)" text-anchor="middle">2</text><text transform="translate(2251.12,177.80) scale(0.845,1.000)" text-anchor="middle">5</text><text transform="translate(2269.88,177.80) scale(0.845,1.000)" text-anchor="middle">0</text><text transform="translate(2288.62,177.80) scale(0.845,1.000)" text-anchor="middle">1</text><text transform="translate(2307.38,177.80) scale(0.845,1.000)" text-anchor="middle">2</text><text transform="translate(2326.12,177.80) scale(0.845,1.000)" text-anchor="middle">7</text><text x="2344.88" y="177.80" text-anchor="middle">)</text></g><rect x="423.75" y="595.7" width="791.45" height="827.3499999999999" rx="7.5" ry="7.5" fill="#fff" fill-opacity="0.8" stroke="#ccc" stroke-opacity="0.8" stroke-width="2.5"/><line x1="438.75" y1="624.70" x2="513.75" y2="624.70" stroke="#1f77b4" stroke-width="3.75" stroke-linecap="square"/><g font-size="37.5" fill="#000" stroke="#000" stroke-width="0.45"><text transform="translate(553.12,636.70) scale(0.720,0.850)" text-anchor="middle">w</text><text transform="translate(571.88,636.70) scale(0.845,0.850)" text-anchor="middle">e</text><text transform="translate(590.62,636.70) scale(1.000,0.930)" text-anchor="middle">i</text><text transform="translate(609.38,636.70) scale(0.845,0.830)" text-anchor="middle">g</text><text transform="translate(628.12,636.70) scale(0.845,0.930)" text-anchor="middle">h</text><text transform="translate(646.88,636.70) scale(1.000,0.930)" text-anchor="middle">t</text><text transform="translate(665.62,636.70) scale(0.845,1.000)" text-anchor="middle">_</text><text transform="translate(684.38,636.70) scale(1.000,0.850)" text-anchor="middle">r</text><text transform="translate(703.12,636.70) scale(0.845,0.850)" text-anchor="middle">a</text><text transform="translate(721.88,636.70) scale(1.000,0.930)" text-anchor="middle">t</text><text transform="translate(740.62,636.70) scale(1.000,0.930)" text-anchor="middle">i</text><text transform="translate(759.38,636.70) scale(0.845,0.850)" text-anchor="middle">o</text><text transform="translate(778.12,636.70) scale(0.845,1.000)" text-anchor="middle">_</text><text transform="translate(796.88,636.70) scale(0.845,0.930)" text-anchor="middle">b</text><text transform="translate(815.62,636.70) scale(0.845,0.850)" text-anchor="middle">e</text><text transform="translate(834.38,636.70) scale(1.000,0.930)" text-anchor="middle">l</text><text transform="translate(853.12,636.70) scale(0.845,0.850)" text-anchor="middle">o</text><text transform="translate(871.88,636.70) scale(0.720,0.850)" text-anchor="middle">w</text><text transform="translate(890.62,636.70) scale(0.845,1.000)" text-anchor="middle">_</text><text transform="translate(909.38,636.70) scale(0.940,0.850)" text-anchor="middle">s</text><text transform="translate(928.12,636.70) scale(0.940,0.850)" text-anchor="middle">z</text><text transform="translate(946.88,636.70) scale(0.845,1.000)" text-anchor="middle">5</text><text transform="translate(965.62,636.70) scale(0.845,1.000)" text-anchor="middle">0</text><text transform="translate(984.38,636.70) scale(0.845,1.000)" text-anchor="middle">_</text><text transform="translate(1003.12,636.70) scale(0.845,0.930)" text-anchor="middle">b</text><text transform="translate(1021.88,636.70) scale(0.845,0.850)" text-anchor="middle">o</text><text transform="translate(1040.62,636.70) scale(1.000,0.930)" text-anchor="middle">t</text><text x="1059.38" y="636.70" text-anchor="middle">:</text><text transform="translate(1096.88,636.70) scale(0.845,1.000)" text-anchor="middle">0</text><text x="1111.50" y="636.70" text-anchor="middle">.</text><text transform="translate(1134.38,636.70) scale(0.845,1.000)" text-anchor="middle">9</text><text transform="translate(1153.12,636.70) scale(0.845,1.000)" text-anchor="middle">8</text></g><line x1="438.75" y1="675.72" x2="513.75" y2="675.72" stroke="#ff7f0e" stroke-width="3.75" stroke-linecap="square"/><g font-size="37.5" fill="#000" stroke="#000" stroke-width="0.45"><text transform="translate(553.12,687.72) scale(0.720,0.850)" text-anchor="middle">w</text><text transform="translate(571.88,687.72) scale(0.845,0.850)" text-anchor="middle">e</text><text transform="translate(590.62,687.72) scale(1.000,0.930)" text-anchor="middle">i</text><text transform="translate(609.38,687.72) scale(0.845,0.830)" text-anchor="middle">g</text><text transform="translate(628.12,687.72) scale(0.845,0.930)" text-anchor="middle">h</text><text transform="translate(646.88,687.72) scale(1.000,0.930)" text-anchor="middle">t</text><text transform="translate(665.62,687.72) scale(0.845,1.000)" text-anchor="middle">_</text><text transform="translate(684.38,687.72) scale(1.000,0.850)" text-anchor="middle">r</text><text transform="translate(703.12,687.72) scale(0.845,0.850)" text-anchor="middle">a</text><text transform="translate(721.88,687.72) scale(1.000,0.930)" text-anchor="middle">t</text><text transform="translate(740.62,687.72) scale(1.000,0.930)" text-anchor="middle">i</text><text transform="translate(759.38,687.72) scale(0.845,0.850)" text-anchor="middle">o</text><text transform="translate(778.12,687.72) scale(0.845,1.000)" text-anchor="middle">_</text><text transform="translate(796.88,687.72) scale(0.845,0.930)" text-anchor="middle">b</text><text transform="translate(815.62,687.72) scale(0.845,0.850)" text-anchor="middle">e</text><text transform="translate(834.38,687.72) scale(1.000,0.930)" text-anchor="middle">l</text><text transform="translate(853.12,687.72) scale(0.845,0.850)" text-anchor="middle">o</text><text transform="translate(871.88,687.72) scale(0.720,0.850)" text-anchor="middle">w</text><text transform="translate(890.62,687.72) scale(0.845,1.000)" text-anchor="middle">_</text><text transform="translate(909.38,687.72) scale(0.845,0.930)" text-anchor="middle">h</text><text transform="translate(928.12,687.72) scale(0.940,0.850)" text-anchor="middle">s</text><text transform="translate(946.88,687.72) scale(0.845,1.000)" text-anchor="middle">3</text><text transform="translate(965.62,687.72) scale(0.845,1.000)" text-anchor="middle">0</text><text transform="translate(984.38,687.72) scale(0.845,1.000)" text-anchor="middle">0</text><text transform="translate(1003.12,687.72) scale(0.845,1.000)" text-anchor="middle">_</text><text transform="translate(1021.88,687.72) scale(0.624,0.850)" text-anchor="middle">m</text><text transform="translate(1040.62,687.72) scale(1.000,0.930)" text-anchor="middle">i</text><text transform="translate(1059.38,687.72) scale(0.845,0.930)" text-anchor="middle">d</text><text x="1078.12" y="687.72" text-anchor="middle">:</text><text transform="translate(1115.62,687.72) scale(0.845,1.000)" text-anchor="middle">0</text><text x="1130.25" y="687.72" text-anchor="middle">.</text><text transform="translate(1153.12,687.72) scale(0.845,1.000)" text-anchor="middle">9</text><text transform="translate(1171.88,687.72) scale(0.845,1.000)" text-anchor="middle">7</text></g><line x1="438.75" y1="726.74" x2="513.75" y2="726.74" stroke="#2ca02c" stroke-width="3.75" stroke-linecap="square"/><g font-size="37.5" fill="#000" stroke="#000" stroke-width="0.45"><text transform="translate(553.12,738.74) scale(0.720,0.850)" text-anchor="middle">w</text><text transform="translate(571.88,738.74) scale(0.845,0.850)" text-anchor="middle">e</text><text transform="translate(590.62,738.74) scale(1.000,0.930)" text-anchor="middle">i</text><text transform="translate(609.38,738.74) scale(0.845,0.830)" text-anchor="middle">g</text><text transform="translate(628.12,738.74) scale(0.845,0.930)" text-anchor="middle">h</text><text transform="translate(646.88,738.74) scale(1.000,0.930)" text-anchor="middle">t</text><text transform="translate(665.62,738.74) scale(0.845,1.000)" text-anchor="middle">_</text><text transform="translate(684.38,738.74) scale(1.000,0.850)" text-anchor="middle">r</text><text transform="translate(703.12,738.74) scale(0.845,0.850)" text-anchor="middle">a</text><text transform="translate(721.88,738.74) scale(1.000,0.930)" text-anchor="middle">t</text><text transform="translate(740.62,738.74) scale(1.000,0.930)" text-anchor="middle">i</text><text transform="translate(759.38,738.74) scale(0.845,0.850)" text-anchor="middle">o</text><text transform="translate(778.12,738.74) scale(0.845,1.000)" text-anchor="middle">_</text><text transform="translate(796.88,738.74) scale(0.845,0.930)" text-anchor="middle">b</text><text transform="translate(815.62,738.74) scale(0.845,0.850)" text-anchor="middle">e</text><text transform="translate(834.38,738.74) scale(1.000,0.930)" text-anchor="middle">l</text><text transform="translate(853.12,738.74) scale(0.845,0.850)" text-anchor="middle">o</text><text transform="translate(871.88,738.74) scale(0.720,0.850)" text-anchor="middle">w</text><text transform="translate(890.62,738.74) scale(0.845,1.000)" text-anchor="middle">_</text><text transform="translate(909.38,738.74) scale(0.845,1.000)" text-anchor="middle">5</text><text transform="translate(928.12,738.74) scale(0.845,1.000)" text-anchor="middle">0</text><text transform="translate(946.88,738.74) scale(0.845,1.000)" text-anchor="middle">0</text><text x="965.62" y="738.74" text-anchor="middle">:</text><text transform="translate(1003.12,738.74) scale(0.845,1.000)" text-anchor="middle">0</text><text x="1017.75" y="738.74" text-anchor="middle">.</text><text transform="translate(1040.62,738.74) scale(0.845,1.000)" text-anchor="middle">9</text><text transform="translate(1059.38,738.74) scale(0.845,1.000)" text-anchor="middle">7</text></g><line x1="438.75" y1="777.76" x2="513.75" y2="777.76" stroke="#d62728" stroke-width="3.75" stroke-linecap="square"/><g font-size="37.5" fill="#000" stroke="#000" stroke-width="0.45"><text transform="translate(553.12,789.76) scale(0.720,0.850)" text-anchor="middle">w</text><text transform="translate(571.88,789.76) scale(0.845,0.850)" text-anchor="middle">e</text><text transform="translate(590.62,789.76) scale(1.000,0.930)" text-anchor="middle">i</text><text transform="translate(609.38,789.76) scale(0.845,0.830)" text-anchor="middle">g</text><text transform="translate(628.12,789.76) scale(0.845,0.930)" text-anchor="middle">h</text><text transform="translate(646.88,789.76) scale(1.000,0.930)" text-anchor="middle">t</text><text transform="translate(665.62,789.76) scale(0.845,1.000)" text-anchor="middle">_</text><text transform="translate(684.38,789.76) scale(1.000,0.850)" text-anchor="middle">r</text><text transform="translate(703.12,789.76) scale(0.845,0.850)" text-anchor="middle">a</text><text transform="translate(721.88,789.76) scale(1.000,0.930)" text-anchor="middle">t</text><text transform="translate(740.62,789.76) scale(1.000,0.930)" text-anchor="middle">i</text><text transform="translate(759.38,789.76) scale(0.845,0.850)" text-anchor="middle">o</text><text transform="translate(778.12,789.76) scale(0.845,1.000)" text-anchor="middle">_</text><text transform="translate(796.88,789.76) scale(0.845,0.930)" text-anchor="middle">b</text><text transform="translate(815.62,789.76) scale(0.845,0.850)" text-anchor="middle">e</text><text transform="translate(834.38,789.76) scale(1.000,0.930)" text-anchor="middle">l</text><text transform="translate(853.12,789.76) scale(0.845,0.850)" text-anchor="middle">o</text><text transform="translate(871.88,789.76) scale(0.720,0.850)" text-anchor="middle">w</text><text transform="translate(890.62,789.76) scale(0.845,1.000)" text-anchor="middle">_</text><text transform="translate(909.38,789.76) scale(0.845,0.930)" text-anchor="middle">h</text><text transform="translate(928.12,789.76) scale(0.940,0.850)" text-anchor="middle">s</text><text transform="translate(946.88,789.76) scale(0.845,1.000)" text-anchor="middle">3</text><text transform="translate(965.62,789.76) scale(0.845,1.000)" text-anchor="middle">0</text><text transform="translate(984.38,789.76) scale(0.845,1.000)" text-anchor="middle">0</text><text transform="translate(1003.12,789.76) scale(0.845,1.000)" text-anchor="middle">_</text><text transform="translate(1021.88,789.76) scale(0.845,0.930)" text-anchor="middle">b</text><text transform="translate(1040.62,789.76) scale(0.845,0.850)" text-anchor="middle">o</text><text transform="translate(1059.38,789.76) scale(1.000,0.930)" text-anchor="middle">t</text><text x="1078.12" y="789.76" text-anchor="middle">:</text><text transform="translate(1115.62,789.76) scale(0.845,1.000)" text-anchor="middle">0</text><text x="1130.25" y="789.76" text-anchor="middle">.</text><text transform="translate(1153.12,789.76) scale(0.845,1.000)" text-anchor="middle">9</text><text transform="translate(1171.88,789.76) scale(0.845,1.000)" text-anchor="middle">6</text></g><line x1="438.75" y1="828.78" x2="513.75" y2="828.78" stroke="#9467bd" stroke-width="3.75" stroke-linecap="square"/><g font-size="37.5" fill="#000" stroke="#000" stroke-width="0.45"><text transform="translate(553.12,840.78) scale(0.720,0.850)" text-anchor="middle">w</text><text transform="translate(571.88,840.78) scale(0.845,0.850)" text-anchor="middle">e</text><text transform="translate(590.62,840.78) scale(1.000,0.930)" text-anchor="middle">i</text><text transform="translate(609.38,840.78) scale(0.845,0.830)" text-anchor="middle">g</text><text transform="translate(628.12,840.78) scale(0.845,0.930)" text-anchor="middle">h</text><text transform="translate(646.88,840.78) scale(1.000,0.930)" text-anchor="middle">t</text><text transform="translate(665.62,840.78) scale(0.845,1.000)" text-anchor="middle">_</text><text transform="translate(684.38,840.78) scale(1.000,0.850)" text-anchor="middle">r</text><text transform="translate(703.12,840.78) scale(0.845,0.850)" text-anchor="middle">a</text><text transform="translate(721.88,840.78) scale(1.000,0.930)" text-anchor="middle">t</text><text transform="translate(740.62,840.78) scale(1.000,0.930)" text-anchor="middle">i</text><text transform="translate(759.38,840.78) scale(0.845,0.850)" text-anchor="middle">o</text><text transform="translate(778.12,840.78) scale(0.845,1.000)" text-anchor="middle">_</text><text transform="translate(796.88,840.78) scale(0.845,0.930)" text-anchor="middle">b</text><text transform="translate(815.62,840.78) scale(0.845,0.850)" text-anchor="middle">e</text><text transform="translate(834.38,840.78) scale(1.000,0.930)" text-anchor="middle">l</text><text transform="translate(853.12,840.78) scale(0.845,0.850)" text-anchor="middle">o</text><text transform="translate(871.88,840.78) scale(0.720,0.850)" text-anchor="middle">w</text><text transform="translate(890.62,840.78) scale(0.845,1.000)" text-anchor="middle">_</text><text transform="translate(909.38,840.78) scale(0.940,0.850)" text-anchor="middle">z</text><text transform="translate(928.12,840.78) scale(0.940,0.850)" text-anchor="middle">z</text><text transform="translate(946.88,840.78) scale(0.845,1.000)" text-anchor="middle">5</text><text transform="translate(965.62,840.78) scale(0.845,1.000)" text-anchor="middle">0</text><text transform="translate(984.38,840.78) scale(0.845,1.000)" text-anchor="middle">0</text><text transform="translate(1003.12,840.78) scale(0.845,1.000)" text-anchor="middle">_</text><text transform="translate(1021.88,840.78) scale(0.624,0.850)" text-anchor="middle">m</text><text transform="translate(1040.62,840.78) scale(1.000,0.930)" text-anchor="middle">i</text><text transform="translate(1059.38,840.78) scale(0.845,0.930)" text-anchor="middle">d</text><text x="1078.12" y="840.78" text-anchor="middle">:</text><text transform="translate(1115.62,840.78) scale(0.845,1.000)" text-anchor="middle">0</text><text x="1130.25" y="840.78" text-anchor="middle">.</text><text transform="translate(1153.12,840.78) scale(0.845,1.000)" text-anchor="middle">9</text><text transform="translate(1171.88,840.78) scale(0.845,1.000)" text-anchor="middle">4</text></g><line x1="438.75" y1="879.80" x2="513.75" y2="879.80" stroke="#8c564b" stroke-width="3.75" stroke-linecap="square"/><g font-size="37.5" fill="#000" stroke="#000" stroke-width="0.45"><text transform="translate(553.12,891.80) scale(0.720,0.850)" text-anchor="middle">w</text><text transform="translate(571.88,891.80) scale(0.845,0.850)" text-anchor="middle">e</text><text transform="translate(590.62,891.80) scale(1.000,0.930)" text-anchor="middle">i</text><text transform="translate(609.38,891.80) scale(0.845,0.830)" text-anchor="middle">g</text><text transform="translate(628.12,891.80) scale(0.845,0.930)" text-anchor="middle">h</text><text transform="translate(646.88,891.80) scale(1.000,0.930)" text-anchor="middle">t</text><text transform="translate(665.62,891.80) scale(0.845,1.000)" text-anchor="middle">_</text><text transform="translate(684.38,891.80) scale(1.000,0.850)" text-anchor="middle">r</text><text transform="translate(703.12,891.80) scale(0.845,0.850)" text-anchor="middle">a</text><text transform="translate(721.88,891.80) scale(1.000,0.930)" text-anchor="middle">t</text><text transform="translate(740.62,891.80) scale(1.000,0.930)" text-anchor="middle">i</text><text transform="translate(759.38,891.80) scale(0.845,0.850)" text-anchor="middle">o</text><text transform="translate(778.12,891.80) scale(0.845,1.000)" text-anchor="middle">_</text><text transform="translate(796.88,891.80) scale(0.845,0.930)" text-anchor="middle">b</text><text transform="translate(815.62,891.80) scale(0.845,0.850)" text-anchor="middle">e</text><text transform="translate(834.38,891.80) scale(1.000,0.930)" text-anchor="middle">l</text><text transform="translate(853.12,891.80) scale(0.845,0.850)" text-anchor="middle">o</text><text transform="translate(871.88,891.80) scale(0.720,0.850)" text-anchor="middle">w</text><text transform="translate(890.62,891.80) scale(0.845,1.000)" text-anchor="middle">_</text><text transform="translate(909.38,891.80) scale(0.845,1.000)" text-anchor="middle">2</text><text transform="translate(928.12,891.80) scale(0.845,1.000)" text-anchor="middle">0</text><text transform="translate(946.88,891.80) scale(0.845,1.000)" text-anchor="middle">0</text><text x="965.62" y="891.80" text-anchor="middle">:</text><text transform="translate(1003.12,891.80) scale(0.845,1.000)" text-anchor="middle">0</text><text x="1017.75" y="891.80" text-anchor="middle">.</text><text transform="translate(1040.62,891.80) scale(0.845,1.000)" text-anchor="middle">9</text><text transform="translate(1059.38,891.80) scale(0.845,1.000)" text-anchor="middle">4</text></g><line x1="438.75" y1="930.82" x2="513.75" y2="930.82" stroke="#e377c2" stroke-width="3.75" stroke-linecap="square"/><g font-size="37.5" fill="#000" stroke="#000" stroke-width="0.45"><text transform="translate(553.12,942.82) scale(0.720,0.850)" text-anchor="middle">w</text><text transform="translate(571.88,942.82) scale(0.845,0.850)" text-anchor="middle">e</text><text transform="translate(590.62,942.82) scale(1.000,0.930)" text-anchor="middle">i</text><text transform="translate(609.38,942.82) scale(0.845,0.830)" text-anchor="middle">g</text><text transform="translate(628.12,942.82) scale(0.845,0.930)" text-anchor="middle">h</text><text transform="translate(646.88,942.82) scale(1.000,0.930)" text-anchor="middle">t</text><text transform="translate(665.62,942.82) scale(0.845,1.000)" text-anchor="middle">_</text><text transform="translate(684.38,942.82) scale(1.000,0.850)" text-anchor="middle">r</text><text transform="translate(703.12,942.82) scale(0.845,0.850)" text-anchor="middle">a</text><text transform="translate(721.88,942.82) scale(1.000,0.930)" text-anchor="middle">t</text><text transform="translate(740.62,942.82) scale(1.000,0.930)" text-anchor="middle">i</text><text transform="translate(759.38,942.82) scale(0.845,0.850)" text-anchor="middle">o</text><text transform="translate(778.12,942.82) scale(0.845,1.000)" text-anchor="middle">_</text><text transform="translate(796.88,942.82) scale(0.845,0.930)" text-anchor="middle">b</text><text transform="translate(815.62,942.82) scale(0.845,0.850)" text-anchor="middle">e</text><text transform="translate(834.38,942.82) scale(1.000,0.930)" text-anchor="middle">l</text><text transform="translate(853.12,942.82) scale(0.845,0.850)" text-anchor="middle">o</text><text transform="translate(871.88,942.82) scale(0.720,0.850)" text-anchor="middle">w</text><text transform="translate(890.62,942.82) scale(0.845,1.000)" text-anchor="middle">_</text><text transform="translate(909.38,942.82) scale(0.940,0.850)" text-anchor="middle">z</text><text transform="translate(928.12,942.82) scale(0.940,0.850)" text-anchor="middle">z</text><text transform="translate(946.88,942.82) scale(0.845,1.000)" text-anchor="middle">5</text><text transform="translate(965.62,942.82) scale(0.845,1.000)" text-anchor="middle">0</text><text transform="translate(984.38,942.82) scale(0.845,1.000)" text-anchor="middle">0</text><text transform="translate(1003.12,942.82) scale(0.845,1.000)" text-anchor="middle">_</text><text transform="translate(1021.88,942.82) scale(0.845,0.930)" text-anchor="middle">b</text><text transform="translate(1040.62,942.82) scale(0.845,0.850)" text-anchor="middle">o</text><text transform="translate(1059.38,942.82) scale(1.000,0.930)" text-anchor="middle">t</text><text x="1078.12" y="942.82" text-anchor="middle">:</text><text transform="translate(1115.62,942.82) scale(0.845,1.000)" text-anchor="middle">0</text><text x="1130.25" y="942.82" text-anchor="middle">.</text><text transform="translate(1153.12,942.82) scale(0.845,1.000)" text-anchor="middle">9</text></g><line x1="438.75" y1="981.84" x2="513.75" y2="981.84" stroke="#7f7f7f" stroke-width="3.75" stroke-linecap="square"/><g font-size="37.5" fill="#000" stroke="#000" stroke-width="0.45"><text transform="translate(553.12,993.84) scale(0.720,0.850)" text-anchor="middle">w</text><text transform="translate(571.88,993.84) scale(0.845,0.850)" text-anchor="middle">e</text><text transform="translate(590.62,993.84) scale(1.000,0.930)" text-anchor="middle">i</text><text transform="translate(609.38,993.84) scale(0.845,0.830)" text-anchor="middle">g</text><text transform="translate(628.12,993.84) scale(0.845,0.930)" text-anchor="middle">h</text><text transform="translate(646.88,993.84) scale(1.000,0.930)" text-anchor="middle">t</text><text transform="translate(665.62,993.84) scale(0.845,1.000)" text-anchor="middle">_</text><text transform="translate(684.38,993.84) scale(1.000,0.850)" text-anchor="middle">r</text><text transform="translate(703.12,993.84) scale(0.845,0.850)" text-anchor="middle">a</text><text transform="translate(721.88,993.84) scale(1.000,0.930)" text-anchor="middle">t</text><text transform="translate(740.62,993.84) scale(1.000,0.930)" text-anchor="middle">i</text><text transform="translate(759.38,993.84) scale(0.845,0.850)" text-anchor="middle">o</text><text transform="translate(778.12,993.84) scale(0.845,1.000)" text-anchor="middle">_</text><text transform="translate(796.88,993.84) scale(0.845,0.930)" text-anchor="middle">b</text><text transform="translate(815.62,993.84) scale(0.845,0.850)" text-anchor="middle">e</text><text transform="translate(834.38,993.84) scale(1.000,0.930)" text-anchor="middle">l</text><text transform="translate(853.12,993.84) scale(0.845,0.850)" text-anchor="middle">o</text><text transform="translate(871.88,993.84) scale(0.720,0.850)" text-anchor="middle">w</text><text transform="translate(890.62,993.84) scale(0.845,1.000)" text-anchor="middle">_</text><text transform="translate(909.38,993.84) scale(0.845,1.000)" text-anchor="middle">1</text><text transform="translate(928.12,993.84) scale(0.845,1.000)" text-anchor="middle">0</text><text transform="translate(946.88,993.84) scale(0.845,1.000)" text-anchor="middle">0</text><text x="965.62" y="993.84" text-anchor="middle">:</text><text transform="translate(1003.12,993.84) scale(0.845,1.000)" text-anchor="middle">0</text><text x="1017.75" y="993.84" text-anchor="middle">.</text><text transform="translate(1040.62,993.84) scale(0.845,1.000)" text-anchor="middle">8</text><text transform="translate(1059.38,993.84) scale(0.845,1.000)" text-anchor="middle">4</text></g><line x1="438.75" y1="1032.86" x2="513.75" y2="1032.86" stroke="#bcbd22" stroke-width="3.75" stroke-linecap="square"/><g font-size="37.5" fill="#000" stroke="#000" stroke-width="0.45"><text transform="translate(553.12,1044.86) scale(0.720,0.850)" text-anchor="middle">w</text><text transform="translate(571.88,1044.86) scale(0.845,0.850)" text-anchor="middle">e</text><text transform="translate(590.62,1044.86) scale(1.000,0.930)" text-anchor="middle">i</text><text transform="translate(609.38,1044.86) scale(0.845,0.830)" text-anchor="middle">g</text><text transform="translate(628.12,1044.86) scale(0.845,0.930)" text-anchor="middle">h</text><text transform="translate(646.88,1044.86) scale(1.000,0.930)" text-anchor="middle">t</text><text transform="translate(665.62,1044.86) scale(0.845,1.000)" text-anchor="middle">_</text><text transform="translate(684.38,1044.86) scale(1.000,0.850)" text-anchor="middle">r</text><text transform="translate(703.12,1044.86) scale(0.845,0.850)" text-anchor="middle">a</text><text transform="translate(721.88,1044.86) scale(1.000,0.930)" text-anchor="middle">t</text><text transform="translate(740.62,1044.86) scale(1.000,0.930)" text-anchor="middle">i</text><text transform="translate(759.38,1044.86) scale(0.845,0.850)" text-anchor="middle">o</text><text transform="translate(778.12,1044.86) scale(0.845,1.000)" text-anchor="middle">_</text><text transform="translate(796.88,1044.86) scale(0.845,0.930)" text-anchor="middle">b</text><text transform="translate(815.62,1044.86) scale(0.845,0.850)" text-anchor="middle">e</text><text transform="translate(834.38,1044.86) scale(1.000,0.930)" text-anchor="middle">l</text><text transform="translate(853.12,1044.86) scale(0.845,0.850)" text-anchor="middle">o</text><text transform="translate(871.88,1044.86) scale(0.720,0.850)" text-anchor="middle">w</text><text transform="translate(890.62,1044.86) scale(0.845,1.000)" text-anchor="middle">_</text><text transform="translate(909.38,1044.86) scale(0.940,0.850)" text-anchor="middle">z</text><text transform="translate(928.12,1044.86) scale(0.940,0.850)" text-anchor="middle">z</text><text transform="translate(946.88,1044.86) scale(0.845,1.000)" text-anchor="middle">1</text><text transform="translate(965.62,1044.86) scale(0.845,1.000)" text-anchor="middle">0</text><text transform="translate(984.38,1044.86) scale(0.845,1.000)" text-anchor="middle">0</text><text transform="translate(1003.12,1044.86) scale(0.845,1.000)" text-anchor="middle">0</text><text transform="translate(1021.88,1044.86) scale(0.845,1.000)" text-anchor="middle">_</text><text transform="translate(1040.62,1044.86) scale(0.624,0.850)" text-anchor="middle">m</text><text transform="translate(1059.38,1044.86) scale(1.000,0.930)" text-anchor="middle">i</text><text transform="translate(1078.12,1044.86) scale(0.845,0.930)" text-anchor="middle">d</text><text x="1096.88" y="1044.86" text-anchor="middle">:</text><text transform="translate(1134.38,1044.86) scale(0.845,1.000)" text-anchor="middle">0</text><text x="1149.00" y="1044.86" text-anchor="middle">.</text><text transform="translate(1171.88,1044.86) scale(0.845,1.000)" text-anchor="middle">8</text><text transform="translate(1190.62,1044.86) scale(0.845,1.000)" text-anchor="middle">3</text></g><line x1="438.75" y1="1083.88" x2="513.75" y2="1083.88" stroke="#17becf" stroke-width="3.75" stroke-linecap="square"/><g font-size="37.5" fill="#000" stroke="#000" stroke-width="0.45"><text transform="translate(553.12,1095.88) scale(0.720,0.850)" text-anchor="middle">w</text><text transform="translate(571.88,1095.88) scale(0.845,0.850)" text-anchor="middle">e</text><text transform="translate(590.62,1095.88) scale(1.000,0.930)" text-anchor="middle">i</text><text transform="translate(609.38,1095.88) scale(0.845,0.830)" text-anchor="middle">g</text><text transform="translate(628.12,1095.88) scale(0.845,0.930)" text-anchor="middle">h</text><text transform="translate(646.88,1095.88) scale(1.000,0.930)" text-anchor="middle">t</text><text transform="translate(665.62,1095.88) scale(0.845,1.000)" text-anchor="middle">_</text><text transform="translate(684.38,1095.88) scale(1.000,0.850)" text-anchor="middle">r</text><text transform="translate(703.12,1095.88) scale(0.845,0.850)" text-anchor="middle">a</text><text transform="translate(721.88,1095.88) scale(1.000,0.930)" text-anchor="middle">t</text><text transform="translate(740.62,1095.88) scale(1.000,0.930)" text-anchor="middle">i</text><text transform="translate(759.38,1095.88) scale(0.845,0.850)" text-anchor="middle">o</text><text transform="translate(778.12,1095.88) scale(0.845,1.000)" text-anchor="middle">_</text><text transform="translate(796.88,1095.88) scale(0.845,0.930)" text-anchor="middle">b</text><text transform="translate(815.62,1095.88) scale(0.845,0.850)" text-anchor="middle">e</text><text transform="translate(834.38,1095.88) scale(1.000,0.930)" text-anchor="middle">l</text><text transform="translate(853.12,1095.88) scale(0.845,0.850)" text-anchor="middle">o</text><text transform="translate(871.88,1095.88) scale(0.720,0.850)" text-anchor="middle">w</text><text transform="translate(890.62,1095.88) scale(0.845,1.000)" text-anchor="middle">_</text><text transform="translate(909.38,1095.88) scale(0.940,0.850)" text-anchor="middle">z</text><text transform="translate(928.12,1095.88) scale(0.940,0.850)" text-anchor="middle">z</text><text transform="translate(946.88,1095.88) scale(0.845,1.000)" text-anchor="middle">1</text><text transform="translate(965.62,1095.88) scale(0.845,1.000)" text-anchor="middle">0</text><text transform="translate(984.38,1095.88) scale(0.845,1.000)" text-anchor="middle">0</text><text transform="translate(1003.12,1095.88) scale(0.845,1.000)" text-anchor="middle">0</text><text transform="translate(1021.88,1095.88) scale(0.845,1.000)" text-anchor="middle">_</text><text transform="translate(1040.62,1095.88) scale(0.845,0.930)" text-anchor="middle">b</text><text transform="translate(1059.38,1095.88) scale(0.845,0.850)" text-anchor="middle">o</text><text transform="translate(1078.12,1095.88) scale(1.000,0.930)" text-anchor="middle">t</text><text x="1096.88" y="1095.88" text-anchor="middle">:</text><text transform="translate(1134.38,1095.88) scale(0.845,1.000)" text-anchor="middle">0</text><text x="1149.00" y="1095.88" text-anchor="middle">.</text><text transform="translate(1171.88,1095.88) scale(0.845,1.000)" text-anchor="middle">7</text><text transform="translate(1190.62,1095.88) scale(0.845,1.000)" text-anchor="middle">6</text></g><line x1="438.75" y1="1134.90" x2="513.75" y2="1134.90" stroke="#1f77b4" stroke-width="3.75" stroke-linecap="square"/><g font-size="37.5" fill="#000" stroke="#000" stroke-width="0.45"><text transform="translate(553.12,1146.90) scale(0.720,0.850)" text-anchor="middle">w</text><text transform="translate(571.88,1146.90) scale(0.845,0.850)" text-anchor="middle">e</text><text transform="translate(590.62,1146.90) scale(1.000,0.930)" text-anchor="middle">i</text><text transform="translate(609.38,1146.90) scale(0.845,0.830)" text-anchor="middle">g</text><text transform="translate(628.12,1146.90) scale(0.845,0.930)" text-anchor="middle">h</text><text transform="translate(646.88,1146.90) scale(1.000,0.930)" text-anchor="middle">t</text><text transform="translate(665.62,1146.90) scale(0.845,1.000)" text-anchor="middle">_</text><text transform="translate(684.38,1146.90) scale(1.000,0.850)" text-anchor="middle">r</text><text transform="translate(703.12,1146.90) scale(0.845,0.850)" text-anchor="middle">a</text><text transform="translate(721.88,1146.90) scale(1.000,0.930)" text-anchor="middle">t</text><text transform="translate(740.62,1146.90) scale(1.000,0.930)" text-anchor="middle">i</text><text transform="translate(759.38,1146.90) scale(0.845,0.850)" text-anchor="middle">o</text><text transform="translate(778.12,1146.90) scale(0.845,1.000)" text-anchor="middle">_</text><text transform="translate(796.88,1146.90) scale(0.845,0.930)" text-anchor="middle">b</text><text transform="translate(815.62,1146.90) scale(0.845,0.850)" text-anchor="middle">e</text><text transform="translate(834.38,1146.90) scale(1.000,0.930)" text-anchor="middle">l</text><text transform="translate(853.12,1146.90) scale(0.845,0.850)" text-anchor="middle">o</text><text transform="translate(871.88,1146.90) scale(0.720,0.850)" text-anchor="middle">w</text><text transform="translate(890.62,1146.90) scale(0.845,1.000)" text-anchor="middle">_</text><text transform="translate(909.38,1146.90) scale(0.845,1.000)" text-anchor="middle">5</text><text transform="translate(928.12,1146.90) scale(0.845,1.000)" text-anchor="middle">0</text><text x="946.88" y="1146.90" text-anchor="middle">:</text><text transform="translate(984.38,1146.90) scale(0.845,1.000)" text-anchor="middle">0</text><text x="999.00" y="1146.90" text-anchor="middle">.</text><text transform="translate(1021.88,1146.90) scale(0.845,1.000)" text-anchor="middle">6</text><text transform="translate(1040.62,1146.90) scale(0.845,1.000)" text-anchor="middle">9</text></g><line x1="438.75" y1="1185.92" x2="513.75" y2="1185.92" stroke="#ff7f0e" stroke-width="3.75" stroke-linecap="square"/><g font-size="37.5" fill="#000" stroke="#000" stroke-width="0.45"><text transform="translate(553.12,1197.92) scale(0.720,0.850)" text-anchor="middle">w</text><text transform="translate(571.88,1197.92) scale(0.845,0.850)" text-anchor="middle">e</text><text transform="translate(590.62,1197.92) scale(1.000,0.930)" text-anchor="middle">i</text><text transform="translate(609.38,1197.92) scale(0.845,0.830)" text-anchor="middle">g</text><text transform="translate(628.12,1197.92) scale(0.845,0.930)" text-anchor="middle">h</text><text transform="translate(646.88,1197.92) scale(1.000,0.930)" text-anchor="middle">t</text><text transform="translate(665.62,1197.92) scale(0.845,1.000)" text-anchor="middle">_</text><text transform="translate(684.38,1197.92) scale(1.000,0.850)" text-anchor="middle">r</text><text transform="translate(703.12,1197.92) scale(0.845,0.850)" text-anchor="middle">a</text><text transform="translate(721.88,1197.92) scale(1.000,0.930)" text-anchor="middle">t</text><text transform="translate(740.62,1197.92) scale(1.000,0.930)" text-anchor="middle">i</text><text transform="translate(759.38,1197.92) scale(0.845,0.850)" text-anchor="middle">o</text><text transform="translate(778.12,1197.92) scale(0.845,1.000)" text-anchor="middle">_</text><text transform="translate(796.88,1197.92) scale(0.845,0.930)" text-anchor="middle">b</text><text transform="translate(815.62,1197.92) scale(0.845,0.850)" text-anchor="middle">e</text><text transform="translate(834.38,1197.92) scale(1.000,0.930)" text-anchor="middle">l</text><text transform="translate(853.12,1197.92) scale(0.845,0.850)" text-anchor="middle">o</text><text transform="translate(871.88,1197.92) scale(0.720,0.850)" text-anchor="middle">w</text><text transform="translate(890.62,1197.92) scale(0.845,1.000)" text-anchor="middle">_</text><text transform="translate(909.38,1197.92) scale(0.940,0.850)" text-anchor="middle">z</text><text transform="translate(928.12,1197.92) scale(0.940,0.850)" text-anchor="middle">z</text><text transform="translate(946.88,1197.92) scale(0.845,1.000)" text-anchor="middle">2</text><text transform="translate(965.62,1197.92) scale(0.845,1.000)" text-anchor="middle">0</text><text transform="translate(984.38,1197.92) scale(0.845,1.000)" text-anchor="middle">0</text><text transform="translate(1003.12,1197.92) scale(0.845,1.000)" text-anchor="middle">0</text><text transform="translate(1021.88,1197.92) scale(0.845,1.000)" text-anchor="middle">_</text><text transform="translate(1040.62,1197.92) scale(0.624,0.850)" text-anchor="middle">m</text><text transform="translate(1059.38,1197.92) scale(1.000,0.930)" text-anchor="middle">i</text><text transform="translate(1078.12,1197.92) scale(0.845,0.930)" text-anchor="middle">d</text><text x="1096.88" y="1197.92" text-anchor="middle">:</text><text transform="translate(1134.38,1197.92) scale(0.845,1.000)" text-anchor="middle">0</text><text x="1149.00" y="1197.92" text-anchor="middle">.</text><text transform="translate(1171.88,1197.92) scale(0.845,1.000)" text-anchor="middle">5</text><text transform="translate(1190.62,1197.92) scale(0.845,1.000)" text-anchor="middle">3</text></g><line x1="438.75" y1="1236.94" x2="513.75" y2="1236.94" stroke="#2ca02c" stroke-width="3.75" stroke-linecap="square"/><g font-size="37.5" fill="#000" stroke="#000" stroke-width="0.45"><text transform="translate(553.12,1248.94) scale(0.720,0.850)" text-anchor="middle">w</text><text transform="translate(571.88,1248.94) scale(0.845,0.850)" text-anchor="middle">e</text><text transform="translate(590.62,1248.94) scale(1.000,0.930)" text-anchor="middle">i</text><text transform="translate(609.38,1248.94) scale(0.845,0.830)" text-anchor="middle">g</text><text transform="translate(628.12,1248.94) scale(0.845,0.930)" text-anchor="middle">h</text><text transform="translate(646.88,1248.94) scale(1.000,0.930)" text-anchor="middle">t</text><text transform="translate(665.62,1248.94) scale(0.845,1.000)" text-anchor="middle">_</text><text transform="translate(684.38,1248.94) scale(1.000,0.850)" text-anchor="middle">r</text><text transform="translate(703.12,1248.94) scale(0.845,0.850)" text-anchor="middle">a</text><text transform="translate(721.88,1248.94) scale(1.000,0.930)" text-anchor="middle">t</text><text transform="translate(740.62,1248.94) scale(1.000,0.930)" text-anchor="middle">i</text><text transform="translate(759.38,1248.94) scale(0.845,0.850)" text-anchor="middle">o</text><text transform="translate(778.12,1248.94) scale(0.845,1.000)" text-anchor="middle">_</text><text transform="translate(796.88,1248.94) scale(0.845,0.930)" text-anchor="middle">b</text><text transform="translate(815.62,1248.94) scale(0.845,0.850)" text-anchor="middle">e</text><text transform="translate(834.38,1248.94) scale(1.000,0.930)" text-anchor="middle">l</text><text transform="translate(853.12,1248.94) scale(0.845,0.850)" text-anchor="middle">o</text><text transform="translate(871.88,1248.94) scale(0.720,0.850)" text-anchor="middle">w</text><text transform="translate(890.62,1248.94) scale(0.845,1.000)" text-anchor="middle">_</text><text transform="translate(909.38,1248.94) scale(0.845,1.000)" text-anchor="middle">2</text><text transform="translate(928.12,1248.94) scale(0.845,1.000)" text-anchor="middle">0</text><text x="946.88" y="1248.94" text-anchor="middle">:</text><text transform="translate(984.38,1248.94) scale(0.845,1.000)" text-anchor="middle">0</text><text x="999.00" y="1248.94" text-anchor="middle">.</text><text transform="translate(1021.88,1248.94) scale(0.845,1.000)" text-anchor="middle">2</text><text transform="translate(1040.62,1248.94) scale(0.845,1.000)" text-anchor="middle">4</text></g><line x1="438.75" y1="1287.96" x2="513.75" y2="1287.96" stroke="#d62728" stroke-width="3.75" stroke-linecap="square"/><g font-size="37.5" fill="#000" stroke="#000" stroke-width="0.45"><text transform="translate(553.12,1299.96) scale(0.720,0.850)" text-anchor="middle">w</text><text transform="translate(571.88,1299.96) scale(0.845,0.850)" text-anchor="middle">e</text><text transform="translate(590.62,1299.96) scale(1.000,0.930)" text-anchor="middle">i</text><text transform="translate(609.38,1299.96) scale(0.845,0.830)" text-anchor="middle">g</text><text transform="translate(628.12,1299.96) scale(0.845,0.930)" text-anchor="middle">h</text><text transform="translate(646.88,1299.96) scale(1.000,0.930)" text-anchor="middle">t</text><text transform="translate(665.62,1299.96) scale(0.845,1.000)" text-anchor="middle">_</text><text transform="translate(684.38,1299.96) scale(1.000,0.850)" text-anchor="middle">r</text><text transform="translate(703.12,1299.96) scale(0.845,0.850)" text-anchor="middle">a</text><text transform="translate(721.88,1299.96) scale(1.000,0.930)" text-anchor="middle">t</text><text transform="translate(740.62,1299.96) scale(1.000,0.930)" text-anchor="middle">i</text><text transform="translate(759.38,1299.96) scale(0.845,0.850)" text-anchor="middle">o</text><text transform="translate(778.12,1299.96) scale(0.845,1.000)" text-anchor="middle">_</text><text transform="translate(796.88,1299.96) scale(0.845,0.930)" text-anchor="middle">b</text><text transform="translate(815.62,1299.96) scale(0.845,0.850)" text-anchor="middle">e</text><text transform="translate(834.38,1299.96) scale(1.000,0.930)" text-anchor="middle">l</text><text transform="translate(853.12,1299.96) scale(0.845,0.850)" text-anchor="middle">o</text><text transform="translate(871.88,1299.96) scale(0.720,0.850)" text-anchor="middle">w</text><text transform="translate(890.62,1299.96) scale(0.845,1.000)" text-anchor="middle">_</text><text transform="translate(909.38,1299.96) scale(0.940,0.850)" text-anchor="middle">z</text><text transform="translate(928.12,1299.96) scale(0.940,0.850)" text-anchor="middle">z</text><text transform="translate(946.88,1299.96) scale(0.845,1.000)" text-anchor="middle">2</text><text transform="translate(965.62,1299.96) scale(0.845,1.000)" text-anchor="middle">0</text><text transform="translate(984.38,1299.96) scale(0.845,1.000)" text-anchor="middle">0</text><text transform="translate(1003.12,1299.96) scale(0.845,1.000)" text-anchor="middle">0</text><text transform="translate(1021.88,1299.96) scale(0.845,1.000)" text-anchor="middle">_</text><text transform="translate(1040.62,1299.96) scale(0.845,0.930)" text-anchor="middle">b</text><text transform="translate(1059.38,1299.96) scale(0.845,0.850)" text-anchor="middle">o</text><text transform="translate(1078.12,1299.96) scale(1.000,0.930)" text-anchor="middle">t</text><text x="1096.88" y="1299.96" text-anchor="middle">:</text><text transform="translate(1134.38,1299.96) scale(0.845,1.000)" text-anchor="middle">0</text><text x="1149.00" y="1299.96" text-anchor="middle">.</text><text transform="translate(1171.88,1299.96) scale(0.845,1.000)" text-anchor="middle">2</text><text transform="translate(1190.62,1299.96) scale(0.845,1.000)" text-anchor="middle">6</text></g><line x1="438.75" y1="1338.98" x2="513.75" y2="1338.98" stroke="#9467bd" stroke-width="3.75" stroke-linecap="square"/><g font-size="37.5" fill="#000" stroke="#000" stroke-width="0.45"><text transform="translate(553.12,1350.98) scale(0.720,0.850)" text-anchor="middle">w</text><text transform="translate(571.88,1350.98) scale(0.845,0.850)" text-anchor="middle">e</text><text transform="translate(590.62,1350.98) scale(1.000,0.930)" text-anchor="middle">i</text><text transform="translate(609.38,1350.98) scale(0.845,0.830)" text-anchor="middle">g</text><text transform="translate(628.12,1350.98) scale(0.845,0.930)" text-anchor="middle">h</text><text transform="translate(646.88,1350.98) scale(1.000,0.930)" text-anchor="middle">t</text><text transform="translate(665.62,1350.98) scale(0.845,1.000)" text-anchor="middle">_</text><text transform="translate(684.38,1350.98) scale(1.000,0.850)" text-anchor="middle">r</text><text transform="translate(703.12,1350.98) scale(0.845,0.850)" text-anchor="middle">a</text><text transform="translate(721.88,1350.98) scale(1.000,0.930)" text-anchor="middle">t</text><text transform="translate(740.62,1350.98) scale(1.000,0.930)" text-anchor="middle">i</text><text transform="translate(759.38,1350.98) scale(0.845,0.850)" text-anchor="middle">o</text><text transform="translate(778.12,1350.98) scale(0.845,1.000)" text-anchor="middle">_</text><text transform="translate(796.88,1350.98) scale(0.845,0.930)" text-anchor="middle">b</text><text transform="translate(815.62,1350.98) scale(0.845,0.850)" text-anchor="middle">e</text><text transform="translate(834.38,1350.98) scale(1.000,0.930)" text-anchor="middle">l</text><text transform="translate(853.12,1350.98) scale(0.845,0.850)" text-anchor="middle">o</text><text transform="translate(871.88,1350.98) scale(0.720,0.850)" text-anchor="middle">w</text><text transform="translate(890.62,1350.98) scale(0.845,1.000)" text-anchor="middle">_</text><text transform="translate(909.38,1350.98) scale(0.845,1.000)" text-anchor="middle">1</text><text transform="translate(928.12,1350.98) scale(0.845,1.000)" text-anchor="middle">5</text><text x="946.88" y="1350.98" text-anchor="middle">:</text><text transform="translate(984.38,1350.98) scale(0.845,1.000)" text-anchor="middle">0</text><text x="999.00" y="1350.98" text-anchor="middle">.</text><text transform="translate(1021.88,1350.98) scale(0.845,1.000)" text-anchor="middle">1</text><text transform="translate(1040.62,1350.98) scale(0.845,1.000)" text-anchor="middle">3</text></g><line x1="438.75" y1="1390.00" x2="513.75" y2="1390.00" stroke="#8c564b" stroke-width="3.75" stroke-linecap="square"/><g font-size="37.5" fill="#000" stroke="#000" stroke-width="0.45"><text transform="translate(553.12,1402.00) scale(0.720,0.850)" text-anchor="middle">w</text><text transform="translate(571.88,1402.00) scale(0.845,0.850)" text-anchor="middle">e</text><text transform="translate(590.62,1402.00) scale(1.000,0.930)" text-anchor="middle">i</text><text transform="translate(609.38,1402.00) scale(0.845,0.830)" text-anchor="middle">g</text><text transform="translate(628.12,1402.00) scale(0.845,0.930)" text-anchor="middle">h</text><text transform="translate(646.88,1402.00) scale(1.000,0.930)" text-anchor="middle">t</text><text transform="translate(665.62,1402.00) scale(0.845,1.000)" text-anchor="middle">_</text><text transform="translate(684.38,1402.00) scale(1.000,0.850)" text-anchor="middle">r</text><text transform="translate(703.12,1402.00) scale(0.845,0.850)" text-anchor="middle">a</text><text transform="translate(721.88,1402.00) scale(1.000,0.930)" text-anchor="middle">t</text><text transform="translate(740.62,1402.00) scale(1.000,0.930)" text-anchor="middle">i</text><text transform="translate(759.38,1402.00) scale(0.845,0.850)" text-anchor="middle">o</text><text transform="translate(778.12,1402.00) scale(0.845,1.000)" text-anchor="middle">_</text><text transform="translate(796.88,1402.00) scale(0.845,0.930)" text-anchor="middle">b</text><text transform="translate(815.62,1402.00) scale(0.845,0.850)" text-anchor="middle">e</text><text transform="translate(834.38,1402.00) scale(1.000,0.930)" text-anchor="middle">l</text><text transform="translate(853.12,1402.00) scale(0.845,0.850)" text-anchor="middle">o</text><text transform="translate(871.88,1402.00) scale(0.720,0.850)" text-anchor="middle">w</text><text transform="translate(890.62,1402.00) scale(0.845,1.000)" text-anchor="middle">_</text><text transform="translate(909.38,1402.00) scale(0.845,1.000)" text-anchor="middle">1</text><text transform="translate(928.12,1402.00) scale(0.845,1.000)" text-anchor="middle">0</text><text x="946.88" y="1402.00" text-anchor="middle">:</text><text transform="translate(984.38,1402.00) scale(0.845,1.000)" text-anchor="middle">0</text><text x="999.00" y="1402.00" text-anchor="middle">.</text><text transform="translate(1021.88,1402.00) scale(0.845,1.000)" text-anchor="middle">0</text><text transform="translate(1040.62,1402.00) scale(0.845,1.000)" text-anchor="middle">4</text></g></svg></body></html>
